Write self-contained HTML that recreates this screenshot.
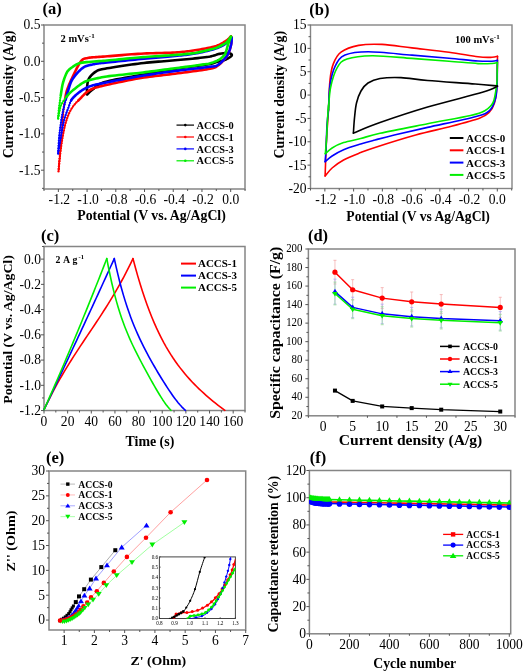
<!DOCTYPE html>
<html><head><meta charset="utf-8"><style>
html,body{margin:0;padding:0;background:#fff;width:525px;height:672px;overflow:hidden}
svg{position:absolute;left:0;top:0;font-family:"Liberation Serif", serif;will-change:transform}
</style></head><body>
<svg width="525" height="672" viewBox="0 0 525 672">
<rect x="0" y="0" width="525" height="672" fill="#fff"/>
<rect x="44" y="25" width="201" height="164" fill="none" stroke="#858585" stroke-width="1.5"/>
<line x1="58.36" y1="189" x2="58.36" y2="192" stroke="#555" stroke-width="1"/>
<text transform="translate(59.36,204.2) scale(0.97,1)" font-size="14" font-weight="normal" text-anchor="middle" fill="#000">-1.2</text>
<line x1="87.08" y1="189" x2="87.08" y2="192" stroke="#555" stroke-width="1"/>
<text transform="translate(88.08,204.2) scale(0.97,1)" font-size="14" font-weight="normal" text-anchor="middle" fill="#000">-1.0</text>
<line x1="115.8" y1="189" x2="115.8" y2="192" stroke="#555" stroke-width="1"/>
<text transform="translate(116.8,204.2) scale(0.97,1)" font-size="14" font-weight="normal" text-anchor="middle" fill="#000">-0.8</text>
<line x1="144.52" y1="189" x2="144.52" y2="192" stroke="#555" stroke-width="1"/>
<text transform="translate(145.52,204.2) scale(0.97,1)" font-size="14" font-weight="normal" text-anchor="middle" fill="#000">-0.6</text>
<line x1="173.24" y1="189" x2="173.24" y2="192" stroke="#555" stroke-width="1"/>
<text transform="translate(174.24,204.2) scale(0.97,1)" font-size="14" font-weight="normal" text-anchor="middle" fill="#000">-0.4</text>
<line x1="201.96" y1="189" x2="201.96" y2="192" stroke="#555" stroke-width="1"/>
<text transform="translate(202.96,204.2) scale(0.97,1)" font-size="14" font-weight="normal" text-anchor="middle" fill="#000">-0.2</text>
<line x1="230.68" y1="189" x2="230.68" y2="192" stroke="#555" stroke-width="1"/>
<text transform="translate(230.68,204.2) scale(0.97,1)" font-size="14" font-weight="normal" text-anchor="middle" fill="#000">0.0</text>
<line x1="44" y1="189" x2="44" y2="191" stroke="#555" stroke-width="1"/>
<line x1="72.72" y1="189" x2="72.72" y2="191" stroke="#555" stroke-width="1"/>
<line x1="101.44" y1="189" x2="101.44" y2="191" stroke="#555" stroke-width="1"/>
<line x1="130.16" y1="189" x2="130.16" y2="191" stroke="#555" stroke-width="1"/>
<line x1="158.88" y1="189" x2="158.88" y2="191" stroke="#555" stroke-width="1"/>
<line x1="187.6" y1="189" x2="187.6" y2="191" stroke="#555" stroke-width="1"/>
<line x1="216.32" y1="189" x2="216.32" y2="191" stroke="#555" stroke-width="1"/>
<line x1="245.04" y1="189" x2="245.04" y2="191" stroke="#555" stroke-width="1"/>
<line x1="41" y1="170.2" x2="44" y2="170.2" stroke="#555" stroke-width="1"/>
<text transform="translate(40.5,174.6) scale(0.97,1)" font-size="14" font-weight="normal" text-anchor="end" fill="#000">-1.5</text>
<line x1="41" y1="133.9" x2="44" y2="133.9" stroke="#555" stroke-width="1"/>
<text transform="translate(40.5,138.3) scale(0.97,1)" font-size="14" font-weight="normal" text-anchor="end" fill="#000">-1.0</text>
<line x1="41" y1="97.6" x2="44" y2="97.6" stroke="#555" stroke-width="1"/>
<text transform="translate(40.5,102) scale(0.97,1)" font-size="14" font-weight="normal" text-anchor="end" fill="#000">-0.5</text>
<line x1="41" y1="61.3" x2="44" y2="61.3" stroke="#555" stroke-width="1"/>
<text transform="translate(40.5,65.7) scale(0.97,1)" font-size="14" font-weight="normal" text-anchor="end" fill="#000">0.0</text>
<line x1="41" y1="25" x2="44" y2="25" stroke="#555" stroke-width="1"/>
<text transform="translate(40.5,29.4) scale(0.97,1)" font-size="14" font-weight="normal" text-anchor="end" fill="#000">0.5</text>
<line x1="42" y1="188.35" x2="44" y2="188.35" stroke="#555" stroke-width="1"/>
<line x1="42" y1="152.05" x2="44" y2="152.05" stroke="#555" stroke-width="1"/>
<line x1="42" y1="115.75" x2="44" y2="115.75" stroke="#555" stroke-width="1"/>
<line x1="42" y1="79.45" x2="44" y2="79.45" stroke="#555" stroke-width="1"/>
<line x1="42" y1="43.15" x2="44" y2="43.15" stroke="#555" stroke-width="1"/>
<text transform="translate(42.5,14.3)" font-size="16.5" font-weight="bold" text-anchor="start" fill="#000">(a)</text>
<text transform="translate(60.5,42)" font-size="10.5" font-weight="bold" text-anchor="start" fill="#000">2 mVs<tspan font-size="7" dy="-4">-1</tspan></text>
<text transform="translate(77.2,220.3)" font-size="14" font-weight="bold" text-anchor="start" fill="#000" textLength="148.6" lengthAdjust="spacingAndGlyphs">Potential (V vs. Ag/AgCl)</text>
<text transform="translate(12.5,158.2) rotate(-90)" font-size="14" font-weight="bold" text-anchor="start" fill="#000" textLength="127.5" lengthAdjust="spacingAndGlyphs">Current density (A/g)</text>
<path d="M87.1 94.5 L87.09 94.15 L87.08 93.71 L87.06 93.2 L87.03 92.62 L87.01 92 L86.99 91.33 L86.97 90.64 L86.97 89.92 L86.97 89.2 L87 88.48 L87.04 87.78 L87.1 87.1 L87.17 86.43 L87.24 85.73 L87.31 85.01 L87.38 84.29 L87.47 83.56 L87.57 82.82 L87.7 82.08 L87.86 81.36 L88.06 80.64 L88.29 79.94 L88.57 79.26 L88.9 78.6 L89.28 77.96 L89.72 77.31 L90.19 76.67 L90.7 76.04 L91.25 75.41 L91.83 74.81 L92.44 74.22 L93.06 73.65 L93.71 73.11 L94.36 72.61 L95.03 72.13 L95.7 71.7 L96.3 71.32 L96.8 71 L97.22 70.73 L97.63 70.5 L98.05 70.3 L98.53 70.11 L99.11 69.92 L99.83 69.73 L100.74 69.53 L101.88 69.29 L103.28 69.02 L105 68.7 L107.07 68.33 L109.48 67.91 L112.17 67.46 L115.1 66.99 L118.21 66.5 L121.46 66 L124.79 65.5 L128.16 65.01 L131.51 64.54 L134.81 64.09 L137.99 63.67 L141 63.3 L143.91 62.97 L146.81 62.66 L149.69 62.39 L152.56 62.13 L155.41 61.9 L158.25 61.67 L161.08 61.45 L163.89 61.23 L166.69 61.01 L169.47 60.79 L172.24 60.55 L175 60.3 L177.8 60.04 L180.67 59.77 L183.58 59.5 L186.51 59.22 L189.42 58.95 L192.29 58.67 L195.09 58.39 L197.79 58.11 L200.36 57.83 L202.77 57.55 L204.99 57.28 L207 57 L208.78 56.72 L210.35 56.42 L211.75 56.11 L212.99 55.8 L214.1 55.48 L215.11 55.17 L216.03 54.88 L216.9 54.59 L217.74 54.33 L218.57 54.09 L219.41 53.88 L220.3 53.7 L221.21 53.55 L222.09 53.42 L222.94 53.31 L223.76 53.22 L224.55 53.15 L225.31 53.1 L226.03 53.07 L226.71 53.06 L227.35 53.06 L227.95 53.09 L228.5 53.13 L229 53.2 L229.46 53.29 L229.9 53.4 L230.3 53.54 L230.67 53.7 L230.99 53.87 L231.27 54.07 L231.5 54.28 L231.67 54.5 L231.78 54.74 L231.82 54.99 L231.8 55.24 L231.7 55.5 L231.51 55.78 L231.23 56.09 L230.86 56.42 L230.42 56.77 L229.92 57.14 L229.37 57.51 L228.78 57.87 L228.17 58.24 L227.54 58.59 L226.92 58.92 L226.3 59.22 L225.7 59.5 L225.11 59.74 L224.51 59.96 L223.9 60.16 L223.28 60.34 L222.65 60.51 L221.99 60.67 L221.33 60.83 L220.64 60.99 L219.94 61.15 L219.21 61.32 L218.47 61.5 L217.7 61.7 L216.97 61.91 L216.32 62.11 L215.71 62.32 L215.12 62.53 L214.51 62.74 L213.85 62.96 L213.11 63.18 L212.24 63.42 L211.24 63.67 L210.05 63.93 L208.65 64.21 L207 64.5 L205.09 64.81 L202.92 65.13 L200.54 65.47 L197.99 65.82 L195.28 66.18 L192.46 66.55 L189.55 66.93 L186.6 67.33 L183.64 67.73 L180.7 68.14 L177.8 68.57 L175 69 L172.24 69.44 L169.47 69.9 L166.69 70.37 L163.89 70.85 L161.08 71.34 L158.25 71.84 L155.41 72.35 L152.56 72.87 L149.69 73.39 L146.81 73.92 L143.91 74.46 L141 75 L137.99 75.55 L134.83 76.11 L131.57 76.68 L128.24 77.26 L124.91 77.85 L121.6 78.44 L118.37 79.04 L115.27 79.64 L112.33 80.23 L109.61 80.83 L107.15 81.42 L105 82 L103.16 82.58 L101.59 83.17 L100.26 83.76 L99.13 84.36 L98.17 84.95 L97.34 85.54 L96.62 86.12 L95.97 86.7 L95.36 87.27 L94.74 87.83 L94.1 88.37 L93.4 88.9 L92.67 89.43 L91.97 89.97 L91.3 90.52 L90.67 91.07 L90.08 91.61 L89.52 92.13 L89.01 92.63 L88.54 93.1 L88.11 93.52 L87.72 93.91 L87.39 94.23 L87.1 94.5" fill="none" stroke="#000000" stroke-width="2.6" stroke-linejoin="round" stroke-linecap="round"/>
<path d="M58.5 171.4 L58.57 170.67 L58.65 169.79 L58.75 168.76 L58.86 167.61 L58.97 166.36 L59.1 165.01 L59.23 163.59 L59.37 162.12 L59.5 160.6 L59.64 159.07 L59.77 157.53 L59.9 156 L60.03 154.43 L60.16 152.75 L60.3 151 L60.44 149.19 L60.58 147.34 L60.72 145.47 L60.86 143.61 L61 141.76 L61.13 139.96 L61.26 138.22 L61.38 136.56 L61.5 135 L61.61 133.52 L61.71 132.09 L61.81 130.71 L61.91 129.37 L62 128.07 L62.09 126.81 L62.18 125.59 L62.27 124.41 L62.35 123.26 L62.43 122.14 L62.52 121.06 L62.6 120 L62.68 118.99 L62.75 118.04 L62.83 117.15 L62.89 116.3 L62.96 115.48 L63.03 114.69 L63.09 113.91 L63.16 113.15 L63.24 112.38 L63.32 111.61 L63.4 110.82 L63.5 110 L63.6 109.17 L63.71 108.33 L63.82 107.5 L63.93 106.67 L64.05 105.83 L64.17 105 L64.3 104.17 L64.43 103.33 L64.57 102.5 L64.71 101.67 L64.85 100.83 L65 100" fill="none" stroke="#ff0000" stroke-width="1.3" stroke-linejoin="round" stroke-linecap="round"/>
<circle cx="58.5" cy="171.4" r="1.15" fill="#ff0000"/>
<circle cx="58.74" cy="168.81" r="1.15" fill="#ff0000"/>
<circle cx="58.99" cy="166.22" r="1.15" fill="#ff0000"/>
<circle cx="59.23" cy="163.63" r="1.15" fill="#ff0000"/>
<circle cx="59.46" cy="161.04" r="1.15" fill="#ff0000"/>
<circle cx="59.69" cy="158.45" r="1.15" fill="#ff0000"/>
<circle cx="59.91" cy="155.86" r="1.15" fill="#ff0000"/>
<circle cx="60.12" cy="153.27" r="1.15" fill="#ff0000"/>
<circle cx="60.32" cy="150.68" r="1.15" fill="#ff0000"/>
<circle cx="60.52" cy="148.09" r="1.15" fill="#ff0000"/>
<circle cx="60.72" cy="145.5" r="1.15" fill="#ff0000"/>
<circle cx="60.91" cy="142.9" r="1.15" fill="#ff0000"/>
<circle cx="61.1" cy="140.31" r="1.15" fill="#ff0000"/>
<circle cx="61.3" cy="137.72" r="1.15" fill="#ff0000"/>
<circle cx="61.49" cy="135.12" r="1.15" fill="#ff0000"/>
<circle cx="61.68" cy="132.53" r="1.15" fill="#ff0000"/>
<circle cx="61.87" cy="129.94" r="1.15" fill="#ff0000"/>
<circle cx="62.06" cy="127.34" r="1.15" fill="#ff0000"/>
<circle cx="62.24" cy="124.75" r="1.15" fill="#ff0000"/>
<circle cx="62.43" cy="122.16" r="1.15" fill="#ff0000"/>
<circle cx="62.63" cy="119.57" r="1.15" fill="#ff0000"/>
<circle cx="62.84" cy="116.97" r="1.15" fill="#ff0000"/>
<circle cx="63.05" cy="114.38" r="1.15" fill="#ff0000"/>
<circle cx="63.3" cy="111.79" r="1.15" fill="#ff0000"/>
<circle cx="63.6" cy="109.21" r="1.15" fill="#ff0000"/>
<circle cx="63.94" cy="106.63" r="1.15" fill="#ff0000"/>
<circle cx="64.32" cy="104.06" r="1.15" fill="#ff0000"/>
<circle cx="64.74" cy="101.5" r="1.15" fill="#ff0000"/>
<path d="M65 100 L65.14 99.18 L65.27 98.38 L65.4 97.59 L65.52 96.8 L65.65 96.02 L65.78 95.23 L65.93 94.43 L66.1 93.61 L66.3 92.76 L66.53 91.88 L66.79 90.96 L67.1 90 L67.45 88.99 L67.83 87.94 L68.24 86.86 L68.68 85.75 L69.14 84.61 L69.63 83.46 L70.14 82.28 L70.67 81.09 L71.21 79.9 L71.76 78.7 L72.33 77.5 L72.9 76.3 L73.49 75.06 L74.12 73.75 L74.77 72.39 L75.45 71 L76.14 69.59 L76.84 68.21 L77.54 66.85 L78.24 65.56 L78.93 64.34 L79.61 63.23 L80.27 62.24 L80.9 61.4 L81.48 60.71 L81.98 60.15 L82.44 59.7 L82.87 59.34 L83.29 59.07 L83.72 58.86 L84.18 58.7 L84.7 58.57 L85.29 58.45 L85.97 58.32 L86.77 58.18 L87.7 58 L88.71 57.81 L89.76 57.66 L90.85 57.52 L92 57.41 L93.22 57.31 L94.53 57.21 L95.93 57.12 L97.46 57.03 L99.11 56.92 L100.91 56.8 L102.87 56.66 L105 56.5 L107.35 56.31 L109.94 56.09 L112.73 55.85 L115.69 55.6 L118.78 55.34 L121.96 55.08 L125.19 54.82 L128.46 54.56 L131.7 54.32 L134.9 54.09 L138.01 53.88 L141 53.7 L143.95 53.55 L146.94 53.42 L149.97 53.31 L153 53.22 L156.02 53.14 L159 53.06 L161.93 52.99 L164.78 52.91 L167.53 52.83 L170.17 52.74 L172.66 52.63 L175 52.5 L177.16 52.36 L179.14 52.21 L180.98 52.06 L182.7 51.91 L184.33 51.75 L185.88 51.57 L187.38 51.39 L188.85 51.2 L190.33 51 L191.83 50.78 L193.38 50.55 L195 50.3 L196.7 50.03 L198.44 49.75 L200.22 49.46 L202.01 49.15 L203.8 48.83 L205.58 48.49 L207.33 48.15 L209.02 47.8 L210.65 47.43 L212.2 47.06 L213.66 46.68 L215 46.3 L216.23 45.9 L217.38 45.48 L218.46 45.05 L219.46 44.61 L220.39 44.15 L221.27 43.69 L222.1 43.23 L222.88 42.77 L223.62 42.31 L224.34 41.86 L225.03 41.42 L225.7 41 L226.35 40.57 L226.96 40.13 L227.53 39.67 L228.06 39.21 L228.56 38.76 L229.02 38.32 L229.44 37.89 L229.83 37.5 L230.17 37.13 L230.49 36.8 L230.76 36.53 L231 36.3" fill="none" stroke="#ff0000" stroke-width="2.6" stroke-linejoin="round" stroke-linecap="round"/>
<path d="M231 36.3 L231.01 36.71 L231.05 37.22 L231.09 37.82 L231.15 38.48 L231.2 39.21 L231.25 39.98 L231.28 40.79 L231.3 41.63 L231.28 42.48 L231.23 43.33 L231.14 44.18 L231 45 L230.82 45.82 L230.62 46.68 L230.4 47.56 L230.15 48.45 L229.87 49.36 L229.56 50.28 L229.22 51.2 L228.85 52.13 L228.45 53.04 L228 53.95 L227.52 54.83 L227 55.7 L226.43 56.57 L225.8 57.46 L225.12 58.36 L224.4 59.27 L223.64 60.17 L222.86 61.05 L222.05 61.91 L221.24 62.73 L220.42 63.51 L219.6 64.24 L218.79 64.91 L218 65.5 L217.29 66.01 L216.7 66.43 L216.18 66.79 L215.69 67.09 L215.2 67.34 L214.67 67.57 L214.05 67.78 L213.31 67.98 L212.4 68.19 L211.29 68.42 L209.94 68.69 L208.3 69 L206.35 69.35 L204.12 69.72 L201.65 70.1 L198.97 70.49 L196.13 70.89 L193.17 71.3 L190.12 71.71 L187.03 72.12 L183.93 72.53 L180.86 72.93 L177.87 73.32 L175 73.7 L172.2 74.06 L169.4 74.41 L166.6 74.73 L163.79 75.05 L160.98 75.37 L158.17 75.69 L155.34 76.02 L152.51 76.36 L149.66 76.72 L146.79 77.11 L143.91 77.54 L141 78 L138 78.51 L134.87 79.07 L131.65 79.68 L128.37 80.31 L125.08 80.96 L121.81 81.62 L118.61 82.29 L115.52 82.95 L112.57 83.59 L109.81 84.2 L107.27 84.77 L105 85.3 L103 85.77 L101.23 86.18 L99.66 86.55 L98.27 86.9 L97.02 87.22 L95.89 87.54 L94.85 87.86 L93.87 88.2 L92.93 88.58 L91.98 88.99 L91.02 89.46 L90 90 L88.97 90.6 L87.98 91.26 L87.04 91.96 L86.13 92.7 L85.25 93.47 L84.41 94.27 L83.58 95.08 L82.78 95.9 L82 96.71 L81.22 97.53 L80.46 98.32 L79.7 99.1 L78.95 99.85 L78.21 100.6" fill="none" stroke="#ff0000" stroke-width="2.6" stroke-linejoin="round" stroke-linecap="round"/>
<path d="M78.21 100.6 L77.5 101.33 L76.79 102.06 L76.11 102.79 L75.44 103.52 L74.79 104.27 L74.15 105.03 L73.54 105.81 L72.94 106.61 L72.36 107.44 L71.8 108.3 L71.26 109.19 L70.75 110.09 L70.25 111 L69.78 111.93 L69.32 112.88 L68.88 113.86 L68.46 114.85 L68.04 115.87 L67.64 116.91 L67.25 117.98 L66.87 119.07 L66.5 120.2 L66.14 121.35 L65.79 122.52 L65.47 123.71 L65.15 124.92 L64.85 126.16 L64.56 127.42 L64.27 128.72 L63.99 130.04 L63.72 131.4 L63.45 132.8 L63.17 134.23 L62.9 135.7 L62.62 137.24 L62.35 138.86 L62.07 140.55 L61.8 142.29 L61.53 144.07 L61.26 145.86 L61.01 147.65 L60.76 149.42 L60.52 151.16 L60.3 152.84 L60.09 154.46 L59.9 156 L59.72 157.5 L59.56 159.03 L59.4 160.56 L59.26 162.07 L59.13 163.54 L59.01 164.97 L58.9 166.32 L58.8 167.59 L58.71 168.75 L58.63 169.78 L58.56 170.67 L58.5 171.4" fill="none" stroke="#ff0000" stroke-width="1.3" stroke-linejoin="round" stroke-linecap="round"/>
<circle cx="78.21" cy="100.6" r="1.15" fill="#ff0000"/>
<circle cx="76.41" cy="102.47" r="1.15" fill="#ff0000"/>
<circle cx="74.67" cy="104.4" r="1.15" fill="#ff0000"/>
<circle cx="73.06" cy="106.44" r="1.15" fill="#ff0000"/>
<circle cx="71.62" cy="108.6" r="1.15" fill="#ff0000"/>
<circle cx="70.33" cy="110.86" r="1.15" fill="#ff0000"/>
<circle cx="69.18" cy="113.19" r="1.15" fill="#ff0000"/>
<circle cx="68.16" cy="115.58" r="1.15" fill="#ff0000"/>
<circle cx="67.24" cy="118.02" r="1.15" fill="#ff0000"/>
<circle cx="66.41" cy="120.48" r="1.15" fill="#ff0000"/>
<circle cx="65.67" cy="122.97" r="1.15" fill="#ff0000"/>
<circle cx="65.01" cy="125.49" r="1.15" fill="#ff0000"/>
<circle cx="64.43" cy="128.02" r="1.15" fill="#ff0000"/>
<circle cx="63.89" cy="130.56" r="1.15" fill="#ff0000"/>
<circle cx="63.39" cy="133.11" r="1.15" fill="#ff0000"/>
<circle cx="62.91" cy="135.67" r="1.15" fill="#ff0000"/>
<circle cx="62.45" cy="138.23" r="1.15" fill="#ff0000"/>
<circle cx="62.03" cy="140.8" r="1.15" fill="#ff0000"/>
<circle cx="61.63" cy="143.37" r="1.15" fill="#ff0000"/>
<circle cx="61.25" cy="145.94" r="1.15" fill="#ff0000"/>
<circle cx="60.89" cy="148.51" r="1.15" fill="#ff0000"/>
<circle cx="60.53" cy="151.09" r="1.15" fill="#ff0000"/>
<circle cx="60.19" cy="153.66" r="1.15" fill="#ff0000"/>
<circle cx="59.87" cy="156.24" r="1.15" fill="#ff0000"/>
<circle cx="59.58" cy="158.83" r="1.15" fill="#ff0000"/>
<circle cx="59.32" cy="161.42" r="1.15" fill="#ff0000"/>
<circle cx="59.09" cy="164.01" r="1.15" fill="#ff0000"/>
<circle cx="58.88" cy="166.6" r="1.15" fill="#ff0000"/>
<circle cx="58.68" cy="169.19" r="1.15" fill="#ff0000"/>
<path d="M58.1 153.6 L58.15 152.73 L58.22 151.65 L58.29 150.38 L58.37 148.96 L58.45 147.41 L58.55 145.76 L58.65 144.06 L58.77 142.32 L58.89 140.59 L59.02 138.88 L59.15 137.25 L59.3 135.7 L59.46 134.19 L59.63 132.66 L59.81 131.1 L60.01 129.54 L60.21 127.98 L60.42 126.42 L60.63 124.89 L60.85 123.39 L61.06 121.93 L61.28 120.52 L61.49 119.18 L61.7 117.9 L61.9 116.71 L62.09 115.62 L62.28 114.61 L62.47 113.65 L62.65 112.73 L62.84 111.84 L63.04 110.95 L63.24 110.05 L63.46 109.12 L63.69 108.15 L63.94 107.12 L64.2 106 L64.48 104.8 L64.78 103.52 L65.1 102.18 L65.43 100.8 L65.77 99.39" fill="none" stroke="#0000ff" stroke-width="1.3" stroke-linejoin="round" stroke-linecap="round"/>
<circle cx="58.1" cy="153.6" r="1.15" fill="#0000ff"/>
<circle cx="58.25" cy="151" r="1.15" fill="#0000ff"/>
<circle cx="58.4" cy="148.41" r="1.15" fill="#0000ff"/>
<circle cx="58.55" cy="145.81" r="1.15" fill="#0000ff"/>
<circle cx="58.71" cy="143.22" r="1.15" fill="#0000ff"/>
<circle cx="58.88" cy="140.62" r="1.15" fill="#0000ff"/>
<circle cx="59.09" cy="138.03" r="1.15" fill="#0000ff"/>
<circle cx="59.33" cy="135.44" r="1.15" fill="#0000ff"/>
<circle cx="59.61" cy="132.86" r="1.15" fill="#0000ff"/>
<circle cx="59.92" cy="130.28" r="1.15" fill="#0000ff"/>
<circle cx="60.25" cy="127.7" r="1.15" fill="#0000ff"/>
<circle cx="60.6" cy="125.12" r="1.15" fill="#0000ff"/>
<circle cx="60.97" cy="122.55" r="1.15" fill="#0000ff"/>
<circle cx="61.37" cy="119.98" r="1.15" fill="#0000ff"/>
<circle cx="61.78" cy="117.41" r="1.15" fill="#0000ff"/>
<circle cx="62.24" cy="114.85" r="1.15" fill="#0000ff"/>
<circle cx="62.74" cy="112.3" r="1.15" fill="#0000ff"/>
<circle cx="63.31" cy="109.76" r="1.15" fill="#0000ff"/>
<circle cx="63.91" cy="107.23" r="1.15" fill="#0000ff"/>
<circle cx="64.51" cy="104.7" r="1.15" fill="#0000ff"/>
<circle cx="65.1" cy="102.17" r="1.15" fill="#0000ff"/>
<circle cx="65.71" cy="99.64" r="1.15" fill="#0000ff"/>
<path d="M65.77 99.39 L66.12 97.97 L66.48 96.55 L66.84 95.14 L67.2 93.77 L67.57 92.45 L67.94 91.19 L68.3 90 L68.65 88.89 L68.97 87.83 L69.28 86.81 L69.59 85.84 L69.9 84.9 L70.22 83.98 L70.56 83.08 L70.93 82.19 L71.34 81.31 L71.8 80.42 L72.32 79.52 L72.9 78.6 L73.55 77.65 L74.27 76.67 L75.05 75.66 L75.88 74.65 L76.75 73.64 L77.64 72.65 L78.56 71.68 L79.49 70.76 L80.41 69.89 L81.33 69.08 L82.23 68.34 L83.1 67.7 L83.95 67.15 L84.8 66.68 L85.64 66.28 L86.48 65.94 L87.32 65.66 L88.16 65.42 L89.01 65.21 L89.87 65.02 L90.73 64.85 L91.61 64.68 L92.5 64.5 L93.4 64.3 L94.24 64.11 L94.98 63.95 L95.64 63.82 L96.27 63.71 L96.91 63.61 L97.59 63.52 L98.37 63.42 L99.28 63.32 L100.35 63.21 L101.64 63.07 L103.17 62.9 L105 62.7 L107.15 62.46 L109.61 62.2 L112.33 61.91 L115.27 61.6 L118.37 61.27 L121.6 60.94 L124.91 60.6 L128.24 60.26 L131.57 59.93 L134.83 59.6 L137.99 59.29 L141 59 L143.95 58.72 L146.94 58.45 L149.97 58.19 L153 57.93 L156.02 57.68 L159 57.42 L161.93 57.18 L164.78 56.94 L167.53 56.7 L170.17 56.46 L172.66 56.23 L175 56 L177.16 55.78 L179.14 55.58 L180.98 55.39 L182.7 55.21 L184.33 55.03 L185.88 54.86 L187.38 54.67 L188.85 54.48 L190.33 54.27 L191.83 54.04 L193.38 53.78 L195 53.5 L196.7 53.19 L198.44 52.85 L200.21 52.49 L202 52.12 L203.79 51.73 L205.56 51.32 L207.3 50.91 L209 50.49 L210.63 50.07 L212.19 49.64 L213.65 49.22 L215 48.8 L216.25 48.38 L217.42 47.96 L218.51 47.53 L219.53 47.1 L220.49 46.66 L221.39 46.22 L222.25 45.77 L223.06 45.33 L223.83 44.87 L224.58 44.42 L225.3 43.96 L226 43.5 L226.68 43.02 L227.32 42.5 L227.93 41.95 L228.5 41.39 L229.04 40.83 L229.54 40.27 L230 39.73 L230.42 39.22 L230.8 38.75 L231.14 38.34 L231.44 37.98 L231.7 37.7" fill="none" stroke="#0000ff" stroke-width="2.6" stroke-linejoin="round" stroke-linecap="round"/>
<path d="M231.7 37.7 L231.68 38.04 L231.66 38.45 L231.65 38.93 L231.64 39.47 L231.63 40.05 L231.6 40.68 L231.56 41.35 L231.5 42.04 L231.42 42.76 L231.32 43.5 L231.18 44.25 L231 45 L230.8 45.78 L230.59 46.6 L230.36 47.47 L230.11 48.37 L229.84 49.29 L229.54 50.23 L229.21 51.17 L228.85 52.11 L228.45 53.04 L228.01 53.96 L227.53 54.85 L227 55.7 L226.41 56.55 L225.76 57.42 L225.05 58.29 L224.3 59.17 L223.51 60.04 L222.69 60.89 L221.85 61.71 L221 62.49 L220.16 63.22 L219.32 63.89 L218.5 64.49 L217.7 65 L217 65.42 L216.42 65.73 L215.92 65.97 L215.46 66.13 L215 66.25 L214.5 66.33 L213.92 66.39 L213.21 66.46 L212.33 66.53 L211.25 66.64 L209.92 66.79 L208.3 67 L206.36 67.26 L204.14 67.54 L201.67 67.84 L199 68.15 L196.15 68.47 L193.19 68.81 L190.13 69.16 L187.04 69.52 L183.93 69.88 L180.87 70.25 L177.88 70.63 L175 71 L172.2 71.38 L169.4 71.76 L166.6 72.14 L163.79 72.53 L160.98 72.93 L158.17 73.33 L155.34 73.75 L152.51 74.17 L149.66 74.61 L146.79 75.06 L143.91 75.52 L141 76 L138.01 76.5 L134.91 77.04 L131.73 77.6 L128.5 78.17 L125.25 78.76 L122.03 79.35 L118.85 79.94 L115.77 80.53 L112.81 81.1 L110 81.66 L107.39 82.2 L105 82.7 L102.84 83.16 L100.86 83.57 L99.05 83.95 L97.39 84.3 L95.85 84.64 L94.41 84.98 L93.04 85.33 L91.73 85.7 L90.46 86.12 L89.19 86.58 L87.91 87.1 L86.6 87.7 L85.27 88.37 L83.94 89.11 L82.63 89.9 L81.35 90.74 L80.1 91.62 L78.89 92.52 L77.73 93.44 L76.63 94.37 L75.58 95.3 L74.61 96.22 L73.71 97.12 L72.9 98 L72.19 98.85 L71.59 99.7 L71.08 100.54" fill="none" stroke="#0000ff" stroke-width="2.6" stroke-linejoin="round" stroke-linecap="round"/>
<path d="M71.08 100.54 L70.64 101.37 L70.27 102.21 L69.95 103.05 L69.66 103.89 L69.39 104.75 L69.12 105.61 L68.84 106.49 L68.54 107.39 L68.2 108.3 L67.83 109.22 L67.47 110.15 L67.11 111.08 L66.75 112.01 L66.39 112.96 L66.04 113.93 L65.7 114.91 L65.36 115.91 L65.03 116.93 L64.71 117.99 L64.4 119.08 L64.1 120.2 L63.81 121.36 L63.54 122.55 L63.27 123.77 L63.02 125.01 L62.77 126.28 L62.53 127.57 L62.29 128.89 L62.06 130.22 L61.82 131.57 L61.59 132.94 L61.35 134.31 L61.1 135.7 L60.84 137.16 L60.57 138.75 L60.28 140.43 L59.99 142.15 L59.7 143.89 L59.41 145.62 L59.14 147.29 L58.88 148.87 L58.64 150.33 L58.43 151.62 L58.24 152.73 L58.1 153.6" fill="none" stroke="#0000ff" stroke-width="1.3" stroke-linejoin="round" stroke-linecap="round"/>
<circle cx="71.08" cy="100.54" r="1.15" fill="#0000ff"/>
<circle cx="70.01" cy="102.9" r="1.15" fill="#0000ff"/>
<circle cx="69.2" cy="105.37" r="1.15" fill="#0000ff"/>
<circle cx="68.37" cy="107.84" r="1.15" fill="#0000ff"/>
<circle cx="67.43" cy="110.26" r="1.15" fill="#0000ff"/>
<circle cx="66.5" cy="112.69" r="1.15" fill="#0000ff"/>
<circle cx="65.62" cy="115.14" r="1.15" fill="#0000ff"/>
<circle cx="64.83" cy="117.61" r="1.15" fill="#0000ff"/>
<circle cx="64.12" cy="120.12" r="1.15" fill="#0000ff"/>
<circle cx="63.52" cy="122.64" r="1.15" fill="#0000ff"/>
<circle cx="62.98" cy="125.19" r="1.15" fill="#0000ff"/>
<circle cx="62.5" cy="127.74" r="1.15" fill="#0000ff"/>
<circle cx="62.05" cy="130.3" r="1.15" fill="#0000ff"/>
<circle cx="61.6" cy="132.86" r="1.15" fill="#0000ff"/>
<circle cx="61.15" cy="135.42" r="1.15" fill="#0000ff"/>
<circle cx="60.7" cy="137.99" r="1.15" fill="#0000ff"/>
<circle cx="60.26" cy="140.55" r="1.15" fill="#0000ff"/>
<circle cx="59.83" cy="143.11" r="1.15" fill="#0000ff"/>
<circle cx="59.4" cy="145.68" r="1.15" fill="#0000ff"/>
<circle cx="58.98" cy="148.24" r="1.15" fill="#0000ff"/>
<circle cx="58.56" cy="150.81" r="1.15" fill="#0000ff"/>
<circle cx="58.14" cy="153.37" r="1.15" fill="#0000ff"/>
<path d="M58.1 118.5 L58.13 118.1 L58.18 117.5 L58.24 116.72 L58.3 115.8 L58.38 114.77 L58.47 113.66 L58.56 112.5 L58.66 111.32 L58.77 110.16 L58.88 109.05 L58.99 108.02 L59.1 107.1 L59.25 106 L59.46 104.47 L59.72 102.6 L60.02 100.47 L60.35 98.16 L60.7 95.77" fill="none" stroke="#00ee00" stroke-width="1.3" stroke-linejoin="round" stroke-linecap="round"/>
<circle cx="58.1" cy="118.5" r="1.15" fill="#00ee00"/>
<circle cx="58.3" cy="115.91" r="1.15" fill="#00ee00"/>
<circle cx="58.5" cy="113.32" r="1.15" fill="#00ee00"/>
<circle cx="58.72" cy="110.72" r="1.15" fill="#00ee00"/>
<circle cx="58.98" cy="108.14" r="1.15" fill="#00ee00"/>
<circle cx="59.31" cy="105.56" r="1.15" fill="#00ee00"/>
<circle cx="59.66" cy="102.98" r="1.15" fill="#00ee00"/>
<circle cx="60.02" cy="100.41" r="1.15" fill="#00ee00"/>
<circle cx="60.39" cy="97.83" r="1.15" fill="#00ee00"/>
<path d="M60.7 95.77 L61.05 93.37 L61.41 91.05 L61.75 88.9 L62.07 87 L62.36 85.44 L62.6 84.3 L62.85 83.32 L63.16 82.22 L63.52 81.02 L63.92 79.75 L64.36 78.45 L64.83 77.15 L65.32 75.87 L65.81 74.66 L66.3 73.55 L66.79 72.56 L67.26 71.74 L67.7 71.1 L68.22 70.52 L68.92 69.84 L69.77 69.1 L70.74 68.31 L71.81 67.5 L72.94 66.69 L74.12 65.91 L75.31 65.17 L76.49 64.49 L77.63 63.91 L78.71 63.44 L79.7 63.1 L80.86 62.85 L82.44 62.6 L84.36 62.37 L86.55 62.14 L88.94 61.93 L91.45 61.73 L94.01 61.53 L96.55 61.35 L98.99 61.17 L101.26 61.01 L103.29 60.85 L105 60.7 L106.86 60.52 L109.31 60.29 L112.23 60 L115.5 59.69 L119.02 59.35 L122.67 59 L126.34 58.65 L129.92 58.31 L133.28 57.99 L136.33 57.71 L138.94 57.48 L141 57.3 L143.04 57.14 L145.57 56.96 L148.51 56.76 L151.73 56.55 L155.13 56.32 L158.6 56.1 L162.04 55.87 L165.34 55.66 L168.39 55.46 L171.09 55.28 L173.33 55.12 L175 55 L176.45 54.88 L178.08 54.75 L179.84 54.6 L181.7 54.44 L183.6 54.27 L185.53 54.09 L187.42 53.91 L189.24 53.72 L190.95 53.53 L192.5 53.35 L193.87 53.17 L195 53 L196.18 52.79 L197.66 52.49 L199.38 52.12 L201.28 51.71 L203.29 51.25 L205.35 50.77 L207.39 50.29 L209.34 49.81 L211.14 49.36 L212.73 48.95 L214.04 48.59 L215 48.3 L215.82 48.01 L216.75 47.64 L217.74 47.21 L218.78 46.74 L219.84 46.23 L220.9 45.71 L221.93 45.18 L222.9 44.67 L223.78 44.18 L224.57 43.73 L225.21 43.33 L225.7 43 L226.13 42.64 L226.61 42.17 L227.13 41.61 L227.67 40.99 L228.21 40.33 L228.75 39.65 L229.27 38.99 L229.75 38.36 L230.17 37.79 L230.53 37.3 L230.81 36.93 L231 36.7" fill="none" stroke="#00ee00" stroke-width="2.6" stroke-linejoin="round" stroke-linecap="round"/>
<path d="M231 36.7 L230.9 36.95 L230.75 37.34 L230.55 37.84 L230.31 38.43 L230.05 39.1 L229.77 39.8 L229.49 40.53 L229.21 41.26 L228.94 41.96 L228.69 42.62 L228.47 43.21 L228.3 43.7 L228.13 44.25 L227.91 44.99 L227.66 45.87 L227.38 46.87 L227.09 47.95 L226.77 49.06 L226.45 50.17 L226.14 51.23 L225.82 52.22 L225.53 53.08 L225.25 53.79 L225 54.3 L224.72 54.72 L224.35 55.19 L223.91 55.69 L223.4 56.2 L222.85 56.73 L222.28 57.25 L221.68 57.76 L221.09 58.24 L220.51 58.68 L219.96 59.08 L219.45 59.43 L219 59.7 L218.52 59.96 L217.93 60.26 L217.24 60.6 L216.46 60.96 L215.6 61.34 L214.67 61.73 L213.69 62.12 L212.66 62.49 L211.59 62.84 L210.5 63.17 L209.4 63.46 L208.3 63.7 L206.85 63.95 L204.77 64.28 L202.19 64.66 L199.21 65.07 L195.95 65.52 L192.52 65.98 L189.05 66.45 L185.65 66.9 L182.42 67.32 L179.5 67.71 L176.98 68.04 L175 68.3 L173.05 68.56 L170.63 68.88 L167.83 69.25 L164.75 69.65 L161.47 70.08 L158.1 70.52 L154.72 70.96 L151.43 71.39 L148.32 71.78 L145.48 72.14 L143.01 72.45 L141 72.7 L138.93 72.94 L136.3 73.22 L133.22 73.55 L129.82 73.9 L126.2 74.28 L122.5 74.67 L118.83 75.06 L115.3 75.44 L112.03 75.8 L109.15 76.14 L106.77 76.44 L105 76.7 L103.47 76.97 L101.75 77.3 L99.87 77.69 L97.9 78.12 L95.88 78.58 L93.86 79.07 L91.88 79.58 L89.99 80.09 L88.24 80.6 L86.68 81.09 L85.35 81.56 L84.3 82 L83.3 82.53 L82.12 83.26 L80.8 84.16 L79.37 85.19 L77.89 86.3 L76.38 87.46 L74.91 88.64 L73.5 89.79 L72.21 90.88 L71.06 91.87 L70.11 92.72 L69.4 93.4 L68.77 94.06 L68.06 94.88 L67.28 95.83 L66.47 96.87" fill="none" stroke="#00ee00" stroke-width="2.6" stroke-linejoin="round" stroke-linecap="round"/>
<path d="M66.47 96.87 L65.63 97.98 L64.8 99.12 L64 100.27 L63.24 101.39 L62.55 102.45 L61.95 103.43 L61.46 104.29 L61.1 105 L60.81 105.77 L60.51 106.78 L60.2 107.98 L59.89 109.32 L59.58 110.74 L59.29 112.19 L59.01 113.61 L58.76 114.96 L58.54 116.17 L58.35 117.21 L58.2 118 L58.1 118.5" fill="none" stroke="#00ee00" stroke-width="1.3" stroke-linejoin="round" stroke-linecap="round"/>
<circle cx="66.47" cy="96.87" r="1.15" fill="#00ee00"/>
<circle cx="64.92" cy="98.96" r="1.15" fill="#00ee00"/>
<circle cx="63.44" cy="101.1" r="1.15" fill="#00ee00"/>
<circle cx="62.03" cy="103.29" r="1.15" fill="#00ee00"/>
<circle cx="60.87" cy="105.6" r="1.15" fill="#00ee00"/>
<circle cx="60.17" cy="108.11" r="1.15" fill="#00ee00"/>
<circle cx="59.6" cy="110.64" r="1.15" fill="#00ee00"/>
<circle cx="59.09" cy="113.19" r="1.15" fill="#00ee00"/>
<circle cx="58.61" cy="115.75" r="1.15" fill="#00ee00"/>
<circle cx="58.14" cy="118.3" r="1.15" fill="#00ee00"/>
<line x1="176.5" y1="125.1" x2="194" y2="125.1" stroke="#000000" stroke-width="1.2"/>
<circle cx="185.3" cy="125.1" r="1.3" fill="#000000"/>
<text transform="translate(196.6,128.7)" font-size="10.4" font-weight="bold" text-anchor="start" fill="#000" textLength="37" lengthAdjust="spacingAndGlyphs">ACCS-0</text>
<line x1="176.5" y1="137" x2="194" y2="137" stroke="#ff0000" stroke-width="1.2"/>
<circle cx="185.3" cy="137" r="1.3" fill="#ff0000"/>
<text transform="translate(196.6,140.6)" font-size="10.4" font-weight="bold" text-anchor="start" fill="#000" textLength="37" lengthAdjust="spacingAndGlyphs">ACCS-1</text>
<line x1="176.5" y1="148.9" x2="194" y2="148.9" stroke="#0000ff" stroke-width="1.2"/>
<circle cx="185.3" cy="148.9" r="1.3" fill="#0000ff"/>
<text transform="translate(196.6,152.5)" font-size="10.4" font-weight="bold" text-anchor="start" fill="#000" textLength="37" lengthAdjust="spacingAndGlyphs">ACCS-3</text>
<line x1="176.5" y1="160.8" x2="194" y2="160.8" stroke="#00ee00" stroke-width="1.2"/>
<circle cx="185.3" cy="160.8" r="1.3" fill="#00ee00"/>
<text transform="translate(196.6,164.4)" font-size="10.4" font-weight="bold" text-anchor="start" fill="#000" textLength="37" lengthAdjust="spacingAndGlyphs">ACCS-5</text>
<rect x="310.5" y="25" width="201.5" height="163.5" fill="none" stroke="#858585" stroke-width="1.4"/>
<line x1="324.87" y1="188.5" x2="324.87" y2="191.5" stroke="#555" stroke-width="1"/>
<text transform="translate(325.87,203.7) scale(0.97,1)" font-size="14" font-weight="normal" text-anchor="middle" fill="#000">-1.2</text>
<line x1="353.61" y1="188.5" x2="353.61" y2="191.5" stroke="#555" stroke-width="1"/>
<text transform="translate(354.61,203.7) scale(0.97,1)" font-size="14" font-weight="normal" text-anchor="middle" fill="#000">-1.0</text>
<line x1="382.35" y1="188.5" x2="382.35" y2="191.5" stroke="#555" stroke-width="1"/>
<text transform="translate(383.35,203.7) scale(0.97,1)" font-size="14" font-weight="normal" text-anchor="middle" fill="#000">-0.8</text>
<line x1="411.09" y1="188.5" x2="411.09" y2="191.5" stroke="#555" stroke-width="1"/>
<text transform="translate(412.09,203.7) scale(0.97,1)" font-size="14" font-weight="normal" text-anchor="middle" fill="#000">-0.6</text>
<line x1="439.83" y1="188.5" x2="439.83" y2="191.5" stroke="#555" stroke-width="1"/>
<text transform="translate(440.83,203.7) scale(0.97,1)" font-size="14" font-weight="normal" text-anchor="middle" fill="#000">-0.4</text>
<line x1="468.57" y1="188.5" x2="468.57" y2="191.5" stroke="#555" stroke-width="1"/>
<text transform="translate(469.57,203.7) scale(0.97,1)" font-size="14" font-weight="normal" text-anchor="middle" fill="#000">-0.2</text>
<line x1="497.31" y1="188.5" x2="497.31" y2="191.5" stroke="#555" stroke-width="1"/>
<text transform="translate(497.31,203.7) scale(0.97,1)" font-size="14" font-weight="normal" text-anchor="middle" fill="#000">0.0</text>
<line x1="310.5" y1="188.5" x2="310.5" y2="190.5" stroke="#555" stroke-width="1"/>
<line x1="339.24" y1="188.5" x2="339.24" y2="190.5" stroke="#555" stroke-width="1"/>
<line x1="367.98" y1="188.5" x2="367.98" y2="190.5" stroke="#555" stroke-width="1"/>
<line x1="396.72" y1="188.5" x2="396.72" y2="190.5" stroke="#555" stroke-width="1"/>
<line x1="425.46" y1="188.5" x2="425.46" y2="190.5" stroke="#555" stroke-width="1"/>
<line x1="454.2" y1="188.5" x2="454.2" y2="190.5" stroke="#555" stroke-width="1"/>
<line x1="482.94" y1="188.5" x2="482.94" y2="190.5" stroke="#555" stroke-width="1"/>
<line x1="511.68" y1="188.5" x2="511.68" y2="190.5" stroke="#555" stroke-width="1"/>
<line x1="307.5" y1="188.49" x2="310.5" y2="188.49" stroke="#555" stroke-width="1"/>
<text transform="translate(306.5,192.89) scale(0.97,1)" font-size="14" font-weight="normal" text-anchor="end" fill="#000">-20</text>
<line x1="307.5" y1="165.13" x2="310.5" y2="165.13" stroke="#555" stroke-width="1"/>
<text transform="translate(306.5,169.53) scale(0.97,1)" font-size="14" font-weight="normal" text-anchor="end" fill="#000">-15</text>
<line x1="307.5" y1="141.78" x2="310.5" y2="141.78" stroke="#555" stroke-width="1"/>
<text transform="translate(306.5,146.18) scale(0.97,1)" font-size="14" font-weight="normal" text-anchor="end" fill="#000">-10</text>
<line x1="307.5" y1="118.42" x2="310.5" y2="118.42" stroke="#555" stroke-width="1"/>
<text transform="translate(306.5,122.82) scale(0.97,1)" font-size="14" font-weight="normal" text-anchor="end" fill="#000">-5</text>
<line x1="307.5" y1="95.06" x2="310.5" y2="95.06" stroke="#555" stroke-width="1"/>
<text transform="translate(306.5,99.47) scale(0.97,1)" font-size="14" font-weight="normal" text-anchor="end" fill="#000">0</text>
<line x1="307.5" y1="71.71" x2="310.5" y2="71.71" stroke="#555" stroke-width="1"/>
<text transform="translate(306.5,76.11) scale(0.97,1)" font-size="14" font-weight="normal" text-anchor="end" fill="#000">5</text>
<line x1="307.5" y1="48.36" x2="310.5" y2="48.36" stroke="#555" stroke-width="1"/>
<text transform="translate(306.5,52.76) scale(0.97,1)" font-size="14" font-weight="normal" text-anchor="end" fill="#000">10</text>
<line x1="307.5" y1="25" x2="310.5" y2="25" stroke="#555" stroke-width="1"/>
<text transform="translate(306.5,29.4) scale(0.97,1)" font-size="14" font-weight="normal" text-anchor="end" fill="#000">15</text>
<line x1="308.5" y1="176.81" x2="310.5" y2="176.81" stroke="#555" stroke-width="1"/>
<line x1="308.5" y1="153.45" x2="310.5" y2="153.45" stroke="#555" stroke-width="1"/>
<line x1="308.5" y1="130.1" x2="310.5" y2="130.1" stroke="#555" stroke-width="1"/>
<line x1="308.5" y1="106.74" x2="310.5" y2="106.74" stroke="#555" stroke-width="1"/>
<line x1="308.5" y1="83.39" x2="310.5" y2="83.39" stroke="#555" stroke-width="1"/>
<line x1="308.5" y1="60.03" x2="310.5" y2="60.03" stroke="#555" stroke-width="1"/>
<line x1="308.5" y1="36.68" x2="310.5" y2="36.68" stroke="#555" stroke-width="1"/>
<text transform="translate(309.3,14.6)" font-size="16.5" font-weight="bold" text-anchor="start" fill="#000">(b)</text>
<text transform="translate(455,42.5)" font-size="10.5" font-weight="bold" text-anchor="start" fill="#000">100 mVs<tspan font-size="7" dy="-4">-1</tspan></text>
<text transform="translate(346.3,220.5)" font-size="14" font-weight="bold" text-anchor="start" fill="#000" textLength="143.6" lengthAdjust="spacingAndGlyphs">Potential (V vs Ag/AgCl)</text>
<text transform="translate(283.5,158.5) rotate(-90)" font-size="14" font-weight="bold" text-anchor="start" fill="#000" textLength="127.5" lengthAdjust="spacingAndGlyphs">Current density (A/g)</text>
<path d="M328.5 110 C328.75 105 329.2 87.68 330 80 C330.8 72.32 331.47 68.53 333.3 63.9 C335.13 59.27 336.78 55.28 341 52.2 C345.22 49.12 351.77 46.7 358.6 45.4 C365.43 44.1 373.1 43.98 382 44.4 C390.9 44.82 400.83 46.6 412 47.9 C423.17 49.2 438 50.72 449 52.2 C460 53.68 470.83 55.95 478 56.8 C485.17 57.65 488.75 57.38 492 57.3 C495.25 57.22 496.58 56.47 497.5 56.3" fill="none" stroke="#ff0000" stroke-width="1.6" stroke-linejoin="round" stroke-linecap="round"/>
<path d="M497.5 56.3 C497.47 58.58 497.43 64.5 497.3 70 C497.17 75.5 497.2 83.7 496.7 89.3 C496.2 94.9 495.5 99.83 494.3 103.6 C493.1 107.37 491.88 109.52 489.5 111.9 C487.12 114.28 486.35 115.52 480 117.9 C473.65 120.28 462.12 123.35 451.4 126.2 C440.68 129.05 428.43 131.47 415.7 135 C402.97 138.53 384.17 144.47 375 147.4 C365.83 150.33 365.93 150.5 360.7 152.6 C355.47 154.7 348.37 157.43 343.6 160 C338.83 162.57 335.18 165.33 332.1 168 C329.02 170.67 326.27 174.67 325.1 176" fill="none" stroke="#ff0000" stroke-width="1.6" stroke-linejoin="round" stroke-linecap="round"/>
<path d="M325.1 176 C325.17 174.17 325.27 171 325.5 165 C325.73 159 326 149.17 326.5 140 C327 130.83 328.17 115 328.5 110" fill="none" stroke="#ff0000" stroke-width="1.6" stroke-linejoin="round" stroke-linecap="round"/>
<path d="M328.5 110 C328.75 105.83 328.87 92.37 330 85 C331.13 77.63 332.8 70.78 335.3 65.8 C337.8 60.82 339.5 57.43 345 55.1 C350.5 52.77 357.13 51.8 368.3 51.8 C379.47 51.8 398.55 54.03 412 55.1 C425.45 56.17 438 57.22 449 58.2 C460 59.18 470.83 60.5 478 61 C485.17 61.5 488.77 61.33 492 61.2 C495.23 61.07 496.5 60.37 497.4 60.2" fill="none" stroke="#0000ff" stroke-width="1.6" stroke-linejoin="round" stroke-linecap="round"/>
<path d="M497.4 60.2 C497.38 62.17 497.35 67.95 497.3 72 C497.25 76.05 497.4 80.03 497.1 84.5 C496.8 88.97 496.77 94.43 495.5 98.8 C494.23 103.17 492.88 107.72 489.5 110.7 C486.12 113.68 485.52 113.92 475.2 116.7 C464.88 119.48 441.08 124.35 427.6 127.4 C414.12 130.45 403.07 132.9 394.3 135 C385.53 137.1 380.6 138.5 375 140 C369.4 141.5 365.93 142.38 360.7 144 C355.47 145.62 348.37 147.7 343.6 149.7 C338.83 151.7 335.18 154 332.1 156 C329.02 158 326.27 160.75 325.1 161.7" fill="none" stroke="#0000ff" stroke-width="1.6" stroke-linejoin="round" stroke-linecap="round"/>
<path d="M325.1 161.7 C325.25 159.75 325.68 156.12 326 150 C326.32 143.88 326.58 131.67 327 125 C327.42 118.33 328.25 112.5 328.5 110" fill="none" stroke="#0000ff" stroke-width="1.6" stroke-linejoin="round" stroke-linecap="round"/>
<path d="M328.5 110 C328.83 106.33 329.05 95.05 330.5 88 C331.95 80.95 334.45 72.53 337.2 67.7 C339.95 62.87 341.17 61 347 59 C352.83 57 361.37 55.8 372.2 55.7 C383.03 55.6 399.2 57.48 412 58.4 C424.8 59.32 438 60.33 449 61.2 C460 62.07 470.83 63.22 478 63.6 C485.17 63.98 488.77 63.68 492 63.5 C495.23 63.32 496.5 62.67 497.4 62.5" fill="none" stroke="#00ee00" stroke-width="1.6" stroke-linejoin="round" stroke-linecap="round"/>
<path d="M497.4 62.5 C497.37 63.75 497.25 67.92 497.2 70 C497.15 72.08 497.18 72.58 497.1 75 C497.02 77.42 497.37 79.93 496.7 84.5 C496.03 89.07 495.08 98.03 493.1 102.4 C491.12 106.77 488.57 108.52 484.8 110.7 C481.03 112.88 480.03 113.32 470.5 115.5 C460.97 117.68 442.68 120.83 427.6 123.8 C412.52 126.77 391.15 130.85 380 133.3 C368.85 135.75 366.77 136.95 360.7 138.5 C354.63 140.05 348.37 141.02 343.6 142.6 C338.83 144.18 335.15 146.15 332.1 148 C329.05 149.85 326.43 152.75 325.3 153.7" fill="none" stroke="#00ee00" stroke-width="1.6" stroke-linejoin="round" stroke-linecap="round"/>
<path d="M325.3 153.7 C325.5 151.42 326.13 145.62 326.5 140 C326.87 134.38 327.17 125.83 327.5 120 C327.83 114.17 328.33 107.5 328.5 105" fill="none" stroke="#00ee00" stroke-width="1.6" stroke-linejoin="round" stroke-linecap="round"/>
<path d="M353.4 133.1 C353.58 130.57 353.98 122.92 354.5 117.9 C355.02 112.88 355.42 107.48 356.5 103 C357.58 98.52 359.08 94.33 361 91 C362.92 87.67 364.83 85.08 368 83 C371.17 80.92 374.5 79.4 380 78.5 C385.5 77.6 393.07 77.27 401 77.6 C408.93 77.93 415.23 79.43 427.6 80.5 C439.97 81.57 463.55 83.08 475.2 84 C486.85 84.92 493.78 85.67 497.5 86" fill="none" stroke="#000000" stroke-width="1.6" stroke-linejoin="round" stroke-linecap="round"/>
<path d="M497.5 86.3 C494.98 87.3 494.05 88.83 482.4 92.3 C470.75 95.77 444.67 102.05 427.6 107.1 C410.53 112.15 392.37 118.27 380 122.6 C367.63 126.93 357.83 131.35 353.4 133.1" fill="none" stroke="#000000" stroke-width="1.6" stroke-linejoin="round" stroke-linecap="round"/>
<line x1="449.8" y1="138" x2="463.4" y2="138" stroke="#000000" stroke-width="2"/>
<text transform="translate(466,142)" font-size="11.3" font-weight="bold" text-anchor="start" fill="#000" textLength="39.2" lengthAdjust="spacingAndGlyphs">ACCS-0</text>
<line x1="449.8" y1="150.3" x2="463.4" y2="150.3" stroke="#ff0000" stroke-width="2"/>
<text transform="translate(466,154.3)" font-size="11.3" font-weight="bold" text-anchor="start" fill="#000" textLength="39.2" lengthAdjust="spacingAndGlyphs">ACCS-1</text>
<line x1="449.8" y1="162.6" x2="463.4" y2="162.6" stroke="#0000ff" stroke-width="2"/>
<text transform="translate(466,166.6)" font-size="11.3" font-weight="bold" text-anchor="start" fill="#000" textLength="39.2" lengthAdjust="spacingAndGlyphs">ACCS-3</text>
<line x1="449.8" y1="174.9" x2="463.4" y2="174.9" stroke="#00ee00" stroke-width="2"/>
<text transform="translate(466,178.9)" font-size="11.3" font-weight="bold" text-anchor="start" fill="#000" textLength="39.2" lengthAdjust="spacingAndGlyphs">ACCS-5</text>
<rect x="44" y="246.5" width="201" height="164" fill="none" stroke="#858585" stroke-width="1.5"/>
<line x1="44" y1="410.5" x2="44" y2="413.5" stroke="#555" stroke-width="1"/>
<text transform="translate(44,425.7) scale(0.97,1)" font-size="14" font-weight="normal" text-anchor="middle" fill="#000">0</text>
<line x1="67.65" y1="410.5" x2="67.65" y2="413.5" stroke="#555" stroke-width="1"/>
<text transform="translate(67.65,425.7) scale(0.97,1)" font-size="14" font-weight="normal" text-anchor="middle" fill="#000">20</text>
<line x1="91.3" y1="410.5" x2="91.3" y2="413.5" stroke="#555" stroke-width="1"/>
<text transform="translate(91.3,425.7) scale(0.97,1)" font-size="14" font-weight="normal" text-anchor="middle" fill="#000">40</text>
<line x1="114.94" y1="410.5" x2="114.94" y2="413.5" stroke="#555" stroke-width="1"/>
<text transform="translate(114.94,425.7) scale(0.97,1)" font-size="14" font-weight="normal" text-anchor="middle" fill="#000">60</text>
<line x1="138.59" y1="410.5" x2="138.59" y2="413.5" stroke="#555" stroke-width="1"/>
<text transform="translate(138.59,425.7) scale(0.97,1)" font-size="14" font-weight="normal" text-anchor="middle" fill="#000">80</text>
<line x1="162.24" y1="410.5" x2="162.24" y2="413.5" stroke="#555" stroke-width="1"/>
<text transform="translate(162.24,425.7) scale(0.97,1)" font-size="14" font-weight="normal" text-anchor="middle" fill="#000">100</text>
<line x1="185.89" y1="410.5" x2="185.89" y2="413.5" stroke="#555" stroke-width="1"/>
<text transform="translate(185.89,425.7) scale(0.97,1)" font-size="14" font-weight="normal" text-anchor="middle" fill="#000">120</text>
<line x1="209.54" y1="410.5" x2="209.54" y2="413.5" stroke="#555" stroke-width="1"/>
<text transform="translate(209.54,425.7) scale(0.97,1)" font-size="14" font-weight="normal" text-anchor="middle" fill="#000">140</text>
<line x1="233.18" y1="410.5" x2="233.18" y2="413.5" stroke="#555" stroke-width="1"/>
<text transform="translate(233.18,425.7) scale(0.97,1)" font-size="14" font-weight="normal" text-anchor="middle" fill="#000">160</text>
<line x1="55.82" y1="410.5" x2="55.82" y2="412.5" stroke="#555" stroke-width="1"/>
<line x1="79.47" y1="410.5" x2="79.47" y2="412.5" stroke="#555" stroke-width="1"/>
<line x1="103.12" y1="410.5" x2="103.12" y2="412.5" stroke="#555" stroke-width="1"/>
<line x1="126.77" y1="410.5" x2="126.77" y2="412.5" stroke="#555" stroke-width="1"/>
<line x1="150.42" y1="410.5" x2="150.42" y2="412.5" stroke="#555" stroke-width="1"/>
<line x1="174.06" y1="410.5" x2="174.06" y2="412.5" stroke="#555" stroke-width="1"/>
<line x1="197.71" y1="410.5" x2="197.71" y2="412.5" stroke="#555" stroke-width="1"/>
<line x1="221.36" y1="410.5" x2="221.36" y2="412.5" stroke="#555" stroke-width="1"/>
<line x1="245.01" y1="410.5" x2="245.01" y2="412.5" stroke="#555" stroke-width="1"/>
<line x1="41" y1="410.56" x2="44" y2="410.56" stroke="#555" stroke-width="1"/>
<text transform="translate(41,414.96) scale(0.97,1)" font-size="14" font-weight="normal" text-anchor="end" fill="#000">-1.2</text>
<line x1="41" y1="385.32" x2="44" y2="385.32" stroke="#555" stroke-width="1"/>
<text transform="translate(41,389.72) scale(0.97,1)" font-size="14" font-weight="normal" text-anchor="end" fill="#000">-1.0</text>
<line x1="41" y1="360.08" x2="44" y2="360.08" stroke="#555" stroke-width="1"/>
<text transform="translate(41,364.48) scale(0.97,1)" font-size="14" font-weight="normal" text-anchor="end" fill="#000">-0.8</text>
<line x1="41" y1="334.84" x2="44" y2="334.84" stroke="#555" stroke-width="1"/>
<text transform="translate(41,339.24) scale(0.97,1)" font-size="14" font-weight="normal" text-anchor="end" fill="#000">-0.6</text>
<line x1="41" y1="309.6" x2="44" y2="309.6" stroke="#555" stroke-width="1"/>
<text transform="translate(41,314) scale(0.97,1)" font-size="14" font-weight="normal" text-anchor="end" fill="#000">-0.4</text>
<line x1="41" y1="284.36" x2="44" y2="284.36" stroke="#555" stroke-width="1"/>
<text transform="translate(41,288.76) scale(0.97,1)" font-size="14" font-weight="normal" text-anchor="end" fill="#000">-0.2</text>
<line x1="41" y1="259.12" x2="44" y2="259.12" stroke="#555" stroke-width="1"/>
<text transform="translate(41,263.52) scale(0.97,1)" font-size="14" font-weight="normal" text-anchor="end" fill="#000">0.0</text>
<line x1="42" y1="397.94" x2="44" y2="397.94" stroke="#555" stroke-width="1"/>
<line x1="42" y1="372.7" x2="44" y2="372.7" stroke="#555" stroke-width="1"/>
<line x1="42" y1="347.46" x2="44" y2="347.46" stroke="#555" stroke-width="1"/>
<line x1="42" y1="322.22" x2="44" y2="322.22" stroke="#555" stroke-width="1"/>
<line x1="42" y1="296.98" x2="44" y2="296.98" stroke="#555" stroke-width="1"/>
<line x1="42" y1="271.74" x2="44" y2="271.74" stroke="#555" stroke-width="1"/>
<line x1="42" y1="246.5" x2="44" y2="246.5" stroke="#555" stroke-width="1"/>
<text transform="translate(41,241)" font-size="16.5" font-weight="bold" text-anchor="start" fill="#000">(c)</text>
<text transform="translate(0,0)" font-size="9.8" font-weight="bold" text-anchor="start" fill="#000"><tspan x="55.6" y="262.9">2</tspan><tspan x="63.1" y="262.9">A</tspan><tspan x="72.5" y="262.9">g</tspan><tspan x="78.5" y="258.9" font-size="6.5">-1</tspan></text>
<text transform="translate(125.5,445.5)" font-size="14" font-weight="bold" text-anchor="start" fill="#000" textLength="48.8" lengthAdjust="spacingAndGlyphs">Time (s)</text>
<text transform="translate(11.5,403.8) rotate(-90)" font-size="13.5" font-weight="bold" text-anchor="start" fill="#000" textLength="148.6" lengthAdjust="spacingAndGlyphs">Potential (V vs. Ag/AgCl)</text>
<path d="M44 409.7 L46.28 404.92 L48.56 400.28 L50.85 395.77 L53.13 391.39 L55.41 387.13 L57.69 382.98 L59.97 378.93 L62.26 374.98 L64.54 371.12 L66.82 367.33 L69.1 363.62 L71.38 359.98 L73.67 356.39 L75.95 352.85 L78.23 349.35 L80.51 345.89 L82.79 342.46 L85.08 339.05 L87.36 335.65 L89.64 332.25 L91.92 328.85 L94.21 325.44 L96.49 322.02 L98.77 318.57 L101.05 315.08 L103.33 311.55 L105.62 307.98 L107.9 304.35 L110.18 300.66 L112.46 296.9 L114.74 293.06 L117.03 289.13 L119.31 285.11 L121.59 280.99 L123.87 276.76 L126.15 272.41 L128.44 267.94 L130.72 263.34 L133 258.6" fill="none" stroke="#ff0000" stroke-width="1.6" stroke-linejoin="round" stroke-linecap="round"/>
<path d="M133 258.6 L135.36 267.49 L137.71 275.89 L140.07 283.81 L142.43 291.29 L144.78 298.35 L147.14 305.01 L149.49 311.3 L151.85 317.24 L154.21 322.84 L156.56 328.13 L158.92 333.13 L161.28 337.86 L163.63 342.33 L165.99 346.57 L168.35 350.58 L170.7 354.39 L173.06 358.01 L175.42 361.46 L177.77 364.74 L180.13 367.87 L182.48 370.86 L184.84 373.73 L187.2 376.48 L189.55 379.13 L191.91 381.68 L194.27 384.13 L196.62 386.51 L198.98 388.81 L201.34 391.04 L203.69 393.21 L206.05 395.32 L208.41 397.37 L210.76 399.37 L213.12 401.32 L215.47 403.21 L217.83 405.06 L220.19 406.86 L222.54 408.6 L224.9 410.3" fill="none" stroke="#ff0000" stroke-width="1.6" stroke-linejoin="round" stroke-linecap="round"/>
<path d="M44 409.7 L45.8 405.91 L47.61 402.11 L49.41 398.31 L51.21 394.51 L53.01 390.7 L54.82 386.89 L56.62 383.07 L58.42 379.25 L60.22 375.43 L62.03 371.6 L63.83 367.76 L65.63 363.93 L67.43 360.08 L69.24 356.23 L71.04 352.38 L72.84 348.53 L74.64 344.67 L76.45 340.8 L78.25 336.93 L80.05 333.06 L81.85 329.18 L83.66 325.29 L85.46 321.41 L87.26 317.52 L89.06 313.62 L90.87 309.72 L92.67 305.81 L94.47 301.9 L96.27 297.99 L98.08 294.07 L99.88 290.15 L101.68 286.22 L103.48 282.29 L105.29 278.35 L107.09 274.41 L108.89 270.46 L110.69 266.52 L112.5 262.56 L114.3 258.6" fill="none" stroke="#0000ff" stroke-width="1.6" stroke-linejoin="round" stroke-linecap="round"/>
<path d="M114.3 258.6 L116.12 266.9 L117.95 274.67 L119.77 281.94 L121.59 288.75 L123.42 295.14 L125.24 301.14 L127.06 306.79 L128.88 312.11 L130.71 317.15 L132.53 321.92 L134.35 326.45 L136.18 330.78 L138 334.91 L139.82 338.87 L141.65 342.69 L143.47 346.37 L145.29 349.94 L147.12 353.41 L148.94 356.8 L150.76 360.1 L152.58 363.34 L154.41 366.52 L156.23 369.65 L158.05 372.72 L159.88 375.75 L161.7 378.73 L163.52 381.66 L165.35 384.54 L167.17 387.36 L168.99 390.12 L170.82 392.81 L172.64 395.43 L174.46 397.95 L176.28 400.36 L178.11 402.66 L179.93 404.82 L181.75 406.83 L183.58 408.66 L185.4 410.29" fill="none" stroke="#0000ff" stroke-width="1.6" stroke-linejoin="round" stroke-linecap="round"/>
<path d="M44 409.69 L45.61 406.09 L47.22 402.47 L48.83 398.83 L50.44 395.18 L52.05 391.52 L53.66 387.84 L55.27 384.15 L56.88 380.45 L58.49 376.73 L60.1 373 L61.71 369.25 L63.32 365.49 L64.93 361.71 L66.54 357.92 L68.15 354.12 L69.76 350.3 L71.37 346.47 L72.98 342.62 L74.59 338.76 L76.21 334.89 L77.82 331 L79.43 327.1 L81.04 323.18 L82.65 319.25 L84.26 315.31 L85.87 311.35 L87.48 307.38 L89.09 303.39 L90.7 299.39 L92.31 295.37 L93.92 291.34 L95.53 287.3 L97.14 283.24 L98.75 279.17 L100.36 275.09 L101.97 270.99 L103.58 266.87 L105.19 262.75 L106.8 258.6" fill="none" stroke="#00ee00" stroke-width="1.6" stroke-linejoin="round" stroke-linecap="round"/>
<path d="M106.8 258.6 L108.44 267.24 L110.09 275.26 L111.73 282.71 L113.37 289.64 L115.02 296.08 L116.66 302.09 L118.31 307.7 L119.95 312.95 L121.59 317.88 L123.24 322.52 L124.88 326.91 L126.52 331.07 L128.17 335.03 L129.81 338.82 L131.45 342.46 L133.1 345.97 L134.74 349.38 L136.38 352.69 L138.03 355.94 L139.67 359.12 L141.32 362.25 L142.96 365.34 L144.6 368.39 L146.25 371.42 L147.89 374.42 L149.53 377.39 L151.18 380.34 L152.82 383.26 L154.46 386.14 L156.11 388.98 L157.75 391.77 L159.39 394.49 L161.04 397.13 L162.68 399.68 L164.33 402.11 L165.97 404.42 L167.61 406.57 L169.26 408.53 L170.9 410.3" fill="none" stroke="#00ee00" stroke-width="1.6" stroke-linejoin="round" stroke-linecap="round"/>
<line x1="181" y1="263.6" x2="196" y2="263.6" stroke="#ff0000" stroke-width="2"/>
<text transform="translate(198,267.4)" font-size="11" font-weight="bold" text-anchor="start" fill="#000" textLength="39" lengthAdjust="spacingAndGlyphs">ACCS-1</text>
<line x1="181" y1="275.6" x2="196" y2="275.6" stroke="#0000ff" stroke-width="2"/>
<text transform="translate(198,279.4)" font-size="11" font-weight="bold" text-anchor="start" fill="#000" textLength="39" lengthAdjust="spacingAndGlyphs">ACCS-3</text>
<line x1="181" y1="287.6" x2="196" y2="287.6" stroke="#00ee00" stroke-width="2"/>
<text transform="translate(198,291.4)" font-size="11" font-weight="bold" text-anchor="start" fill="#000" textLength="39" lengthAdjust="spacingAndGlyphs">ACCS-5</text>
<rect x="308.4" y="249" width="206.6" height="166.8" fill="none" stroke="#858585" stroke-width="1.5"/>
<line x1="323.16" y1="415.8" x2="323.16" y2="415.8" stroke="#555" stroke-width="1"/>
<text transform="translate(323.16,431) scale(0.97,1)" font-size="14" font-weight="normal" text-anchor="middle" fill="#000">0</text>
<line x1="352.67" y1="415.8" x2="352.67" y2="415.8" stroke="#555" stroke-width="1"/>
<text transform="translate(352.67,431) scale(0.97,1)" font-size="14" font-weight="normal" text-anchor="middle" fill="#000">5</text>
<line x1="382.19" y1="415.8" x2="382.19" y2="415.8" stroke="#555" stroke-width="1"/>
<text transform="translate(382.19,431) scale(0.97,1)" font-size="14" font-weight="normal" text-anchor="middle" fill="#000">10</text>
<line x1="411.7" y1="415.8" x2="411.7" y2="415.8" stroke="#555" stroke-width="1"/>
<text transform="translate(411.7,431) scale(0.97,1)" font-size="14" font-weight="normal" text-anchor="middle" fill="#000">15</text>
<line x1="441.22" y1="415.8" x2="441.22" y2="415.8" stroke="#555" stroke-width="1"/>
<text transform="translate(441.22,431) scale(0.97,1)" font-size="14" font-weight="normal" text-anchor="middle" fill="#000">20</text>
<line x1="470.73" y1="415.8" x2="470.73" y2="415.8" stroke="#555" stroke-width="1"/>
<text transform="translate(470.73,431) scale(0.97,1)" font-size="14" font-weight="normal" text-anchor="middle" fill="#000">25</text>
<line x1="500.25" y1="415.8" x2="500.25" y2="415.8" stroke="#555" stroke-width="1"/>
<text transform="translate(500.25,431) scale(0.97,1)" font-size="14" font-weight="normal" text-anchor="middle" fill="#000">30</text>
<line x1="308.4" y1="415.8" x2="308.4" y2="417.8" stroke="#555" stroke-width="1"/>
<line x1="337.91" y1="415.8" x2="337.91" y2="417.8" stroke="#555" stroke-width="1"/>
<line x1="367.43" y1="415.8" x2="367.43" y2="417.8" stroke="#555" stroke-width="1"/>
<line x1="396.94" y1="415.8" x2="396.94" y2="417.8" stroke="#555" stroke-width="1"/>
<line x1="426.46" y1="415.8" x2="426.46" y2="417.8" stroke="#555" stroke-width="1"/>
<line x1="455.97" y1="415.8" x2="455.97" y2="417.8" stroke="#555" stroke-width="1"/>
<line x1="485.49" y1="415.8" x2="485.49" y2="417.8" stroke="#555" stroke-width="1"/>
<line x1="515" y1="415.8" x2="515" y2="417.8" stroke="#555" stroke-width="1"/>
<line x1="305.4" y1="415.81" x2="308.4" y2="415.81" stroke="#555" stroke-width="1"/>
<text transform="translate(302.4,418.81) scale(0.9,1)" font-size="12" font-weight="normal" text-anchor="end" fill="#000">20</text>
<line x1="305.4" y1="397.27" x2="308.4" y2="397.27" stroke="#555" stroke-width="1"/>
<text transform="translate(302.4,400.27) scale(0.9,1)" font-size="12" font-weight="normal" text-anchor="end" fill="#000">40</text>
<line x1="305.4" y1="378.74" x2="308.4" y2="378.74" stroke="#555" stroke-width="1"/>
<text transform="translate(302.4,381.74) scale(0.9,1)" font-size="12" font-weight="normal" text-anchor="end" fill="#000">60</text>
<line x1="305.4" y1="360.2" x2="308.4" y2="360.2" stroke="#555" stroke-width="1"/>
<text transform="translate(302.4,363.2) scale(0.9,1)" font-size="12" font-weight="normal" text-anchor="end" fill="#000">80</text>
<line x1="305.4" y1="341.67" x2="308.4" y2="341.67" stroke="#555" stroke-width="1"/>
<text transform="translate(302.4,344.67) scale(0.9,1)" font-size="12" font-weight="normal" text-anchor="end" fill="#000">100</text>
<line x1="305.4" y1="323.14" x2="308.4" y2="323.14" stroke="#555" stroke-width="1"/>
<text transform="translate(302.4,326.14) scale(0.9,1)" font-size="12" font-weight="normal" text-anchor="end" fill="#000">120</text>
<line x1="305.4" y1="304.6" x2="308.4" y2="304.6" stroke="#555" stroke-width="1"/>
<text transform="translate(302.4,307.6) scale(0.9,1)" font-size="12" font-weight="normal" text-anchor="end" fill="#000">140</text>
<line x1="305.4" y1="286.07" x2="308.4" y2="286.07" stroke="#555" stroke-width="1"/>
<text transform="translate(302.4,289.07) scale(0.9,1)" font-size="12" font-weight="normal" text-anchor="end" fill="#000">160</text>
<line x1="305.4" y1="267.53" x2="308.4" y2="267.53" stroke="#555" stroke-width="1"/>
<text transform="translate(302.4,270.53) scale(0.9,1)" font-size="12" font-weight="normal" text-anchor="end" fill="#000">180</text>
<line x1="305.4" y1="249" x2="308.4" y2="249" stroke="#555" stroke-width="1"/>
<text transform="translate(302.4,252) scale(0.9,1)" font-size="12" font-weight="normal" text-anchor="end" fill="#000">200</text>
<line x1="306.4" y1="406.54" x2="308.4" y2="406.54" stroke="#555" stroke-width="1"/>
<line x1="306.4" y1="388" x2="308.4" y2="388" stroke="#555" stroke-width="1"/>
<line x1="306.4" y1="369.47" x2="308.4" y2="369.47" stroke="#555" stroke-width="1"/>
<line x1="306.4" y1="350.94" x2="308.4" y2="350.94" stroke="#555" stroke-width="1"/>
<line x1="306.4" y1="332.4" x2="308.4" y2="332.4" stroke="#555" stroke-width="1"/>
<line x1="306.4" y1="313.87" x2="308.4" y2="313.87" stroke="#555" stroke-width="1"/>
<line x1="306.4" y1="295.33" x2="308.4" y2="295.33" stroke="#555" stroke-width="1"/>
<line x1="306.4" y1="276.8" x2="308.4" y2="276.8" stroke="#555" stroke-width="1"/>
<line x1="306.4" y1="258.27" x2="308.4" y2="258.27" stroke="#555" stroke-width="1"/>
<text transform="translate(307.9,241.2)" font-size="16.5" font-weight="bold" text-anchor="start" fill="#000">(d)</text>
<text transform="translate(338.7,445)" font-size="15.5" font-weight="bold" text-anchor="start" fill="#000" textLength="143.6" lengthAdjust="spacingAndGlyphs">Current density (A/g)</text>
<text transform="translate(280,418.8) rotate(-90)" font-size="15.5" font-weight="bold" text-anchor="start" fill="#000" textLength="172" lengthAdjust="spacingAndGlyphs">Specific capacitance (F/g)</text>
<line x1="334.96" y1="260.31" x2="334.96" y2="284.03" stroke="#f4a8a8" stroke-width="0.7"/>
<line x1="333.46" y1="260.31" x2="336.46" y2="260.31" stroke="#f4a8a8" stroke-width="0.8"/>
<line x1="333.46" y1="284.03" x2="336.46" y2="284.03" stroke="#f4a8a8" stroke-width="0.8"/>
<line x1="352.67" y1="279.67" x2="352.67" y2="299.88" stroke="#f4a8a8" stroke-width="0.7"/>
<line x1="351.17" y1="279.67" x2="354.17" y2="279.67" stroke="#f4a8a8" stroke-width="0.8"/>
<line x1="351.17" y1="299.88" x2="354.17" y2="299.88" stroke="#f4a8a8" stroke-width="0.8"/>
<line x1="382.19" y1="287.64" x2="382.19" y2="308.59" stroke="#f4a8a8" stroke-width="0.7"/>
<line x1="380.69" y1="287.64" x2="383.69" y2="287.64" stroke="#f4a8a8" stroke-width="0.8"/>
<line x1="380.69" y1="308.59" x2="383.69" y2="308.59" stroke="#f4a8a8" stroke-width="0.8"/>
<line x1="411.7" y1="292" x2="411.7" y2="311.64" stroke="#f4a8a8" stroke-width="0.7"/>
<line x1="410.2" y1="292" x2="413.2" y2="292" stroke="#f4a8a8" stroke-width="0.8"/>
<line x1="410.2" y1="311.64" x2="413.2" y2="311.64" stroke="#f4a8a8" stroke-width="0.8"/>
<line x1="441.22" y1="294.59" x2="441.22" y2="313.5" stroke="#f4a8a8" stroke-width="0.7"/>
<line x1="439.72" y1="294.59" x2="442.72" y2="294.59" stroke="#f4a8a8" stroke-width="0.8"/>
<line x1="439.72" y1="313.5" x2="442.72" y2="313.5" stroke="#f4a8a8" stroke-width="0.8"/>
<line x1="500.25" y1="297.28" x2="500.25" y2="317.48" stroke="#f4a8a8" stroke-width="0.7"/>
<line x1="498.75" y1="297.28" x2="501.75" y2="297.28" stroke="#f4a8a8" stroke-width="0.8"/>
<line x1="498.75" y1="317.48" x2="501.75" y2="317.48" stroke="#f4a8a8" stroke-width="0.8"/>
<line x1="334.96" y1="279.12" x2="334.96" y2="304.14" stroke="#a8a8f4" stroke-width="0.7"/>
<line x1="333.46" y1="279.12" x2="336.46" y2="279.12" stroke="#a8a8f4" stroke-width="0.8"/>
<line x1="333.46" y1="304.14" x2="336.46" y2="304.14" stroke="#a8a8f4" stroke-width="0.8"/>
<line x1="352.67" y1="297.19" x2="352.67" y2="317.58" stroke="#a8a8f4" stroke-width="0.7"/>
<line x1="351.17" y1="297.19" x2="354.17" y2="297.19" stroke="#a8a8f4" stroke-width="0.8"/>
<line x1="351.17" y1="317.58" x2="354.17" y2="317.58" stroke="#a8a8f4" stroke-width="0.8"/>
<line x1="382.19" y1="304.14" x2="382.19" y2="323.6" stroke="#a8a8f4" stroke-width="0.7"/>
<line x1="380.69" y1="304.14" x2="383.69" y2="304.14" stroke="#a8a8f4" stroke-width="0.8"/>
<line x1="380.69" y1="323.6" x2="383.69" y2="323.6" stroke="#a8a8f4" stroke-width="0.8"/>
<line x1="411.7" y1="307.38" x2="411.7" y2="325.92" stroke="#a8a8f4" stroke-width="0.7"/>
<line x1="410.2" y1="307.38" x2="413.2" y2="307.38" stroke="#a8a8f4" stroke-width="0.8"/>
<line x1="410.2" y1="325.92" x2="413.2" y2="325.92" stroke="#a8a8f4" stroke-width="0.8"/>
<line x1="441.22" y1="309.24" x2="441.22" y2="327.77" stroke="#a8a8f4" stroke-width="0.7"/>
<line x1="439.72" y1="309.24" x2="442.72" y2="309.24" stroke="#a8a8f4" stroke-width="0.8"/>
<line x1="439.72" y1="327.77" x2="442.72" y2="327.77" stroke="#a8a8f4" stroke-width="0.8"/>
<line x1="500.25" y1="311.55" x2="500.25" y2="330.09" stroke="#a8a8f4" stroke-width="0.7"/>
<line x1="498.75" y1="311.55" x2="501.75" y2="311.55" stroke="#a8a8f4" stroke-width="0.8"/>
<line x1="498.75" y1="330.09" x2="501.75" y2="330.09" stroke="#a8a8f4" stroke-width="0.8"/>
<line x1="334.96" y1="282.08" x2="334.96" y2="304.88" stroke="#98dc98" stroke-width="0.7"/>
<line x1="333.46" y1="282.08" x2="336.46" y2="282.08" stroke="#98dc98" stroke-width="0.8"/>
<line x1="333.46" y1="304.88" x2="336.46" y2="304.88" stroke="#98dc98" stroke-width="0.8"/>
<line x1="352.67" y1="299.78" x2="352.67" y2="318.69" stroke="#98dc98" stroke-width="0.7"/>
<line x1="351.17" y1="299.78" x2="354.17" y2="299.78" stroke="#98dc98" stroke-width="0.8"/>
<line x1="351.17" y1="318.69" x2="354.17" y2="318.69" stroke="#98dc98" stroke-width="0.8"/>
<line x1="382.19" y1="306.73" x2="382.19" y2="324.71" stroke="#98dc98" stroke-width="0.7"/>
<line x1="380.69" y1="306.73" x2="383.69" y2="306.73" stroke="#98dc98" stroke-width="0.8"/>
<line x1="380.69" y1="324.71" x2="383.69" y2="324.71" stroke="#98dc98" stroke-width="0.8"/>
<line x1="411.7" y1="309.98" x2="411.7" y2="327.03" stroke="#98dc98" stroke-width="0.7"/>
<line x1="410.2" y1="309.98" x2="413.2" y2="309.98" stroke="#98dc98" stroke-width="0.8"/>
<line x1="410.2" y1="327.03" x2="413.2" y2="327.03" stroke="#98dc98" stroke-width="0.8"/>
<line x1="441.22" y1="311.74" x2="441.22" y2="328.97" stroke="#98dc98" stroke-width="0.7"/>
<line x1="439.72" y1="311.74" x2="442.72" y2="311.74" stroke="#98dc98" stroke-width="0.8"/>
<line x1="439.72" y1="328.97" x2="442.72" y2="328.97" stroke="#98dc98" stroke-width="0.8"/>
<line x1="500.25" y1="314.33" x2="500.25" y2="331.01" stroke="#98dc98" stroke-width="0.7"/>
<line x1="498.75" y1="314.33" x2="501.75" y2="314.33" stroke="#98dc98" stroke-width="0.8"/>
<line x1="498.75" y1="331.01" x2="501.75" y2="331.01" stroke="#98dc98" stroke-width="0.8"/>
<path d="M334.96 272.17 L352.67 289.77 L382.19 298.12 L411.7 301.82 L441.22 304.05 L500.25 307.38" fill="none" stroke="#ff0000" stroke-width="1.5" stroke-linejoin="round" stroke-linecap="round"/>
<circle cx="334.96" cy="272.17" r="2.6" fill="#ff0000"/>
<circle cx="352.67" cy="289.77" r="2.6" fill="#ff0000"/>
<circle cx="382.19" cy="298.12" r="2.6" fill="#ff0000"/>
<circle cx="411.7" cy="301.82" r="2.6" fill="#ff0000"/>
<circle cx="441.22" cy="304.05" r="2.6" fill="#ff0000"/>
<circle cx="500.25" cy="307.38" r="2.6" fill="#ff0000"/>
<path d="M334.96 291.63 L352.67 307.38 L382.19 313.87 L411.7 316.65 L441.22 318.5 L500.25 320.82" fill="none" stroke="#0000ff" stroke-width="1.5" stroke-linejoin="round" stroke-linecap="round"/>
<path d="M334.96 288.63 l2.8 4.6 h-5.6z" fill="#0000ff"/>
<path d="M352.67 304.38 l2.8 4.6 h-5.6z" fill="#0000ff"/>
<path d="M382.19 310.87 l2.8 4.6 h-5.6z" fill="#0000ff"/>
<path d="M411.7 313.65 l2.8 4.6 h-5.6z" fill="#0000ff"/>
<path d="M441.22 315.5 l2.8 4.6 h-5.6z" fill="#0000ff"/>
<path d="M500.25 317.82 l2.8 4.6 h-5.6z" fill="#0000ff"/>
<path d="M334.96 293.48 L352.67 309.24 L382.19 315.72 L411.7 318.5 L441.22 320.36 L500.25 322.67" fill="none" stroke="#00ee00" stroke-width="1.5" stroke-linejoin="round" stroke-linecap="round"/>
<path d="M334.96 296.48 l2.8 -4.6 h-5.6z" fill="#00ee00"/>
<path d="M352.67 312.24 l2.8 -4.6 h-5.6z" fill="#00ee00"/>
<path d="M382.19 318.72 l2.8 -4.6 h-5.6z" fill="#00ee00"/>
<path d="M411.7 321.5 l2.8 -4.6 h-5.6z" fill="#00ee00"/>
<path d="M441.22 323.36 l2.8 -4.6 h-5.6z" fill="#00ee00"/>
<path d="M500.25 325.67 l2.8 -4.6 h-5.6z" fill="#00ee00"/>
<path d="M334.96 390.6 L352.67 400.89 L382.19 406.45 L411.7 408.11 L441.22 409.69 L500.25 411.54" fill="none" stroke="#000000" stroke-width="1.3" stroke-linejoin="round" stroke-linecap="round"/>
<rect x="332.96" y="388.6" width="4" height="4" fill="#000000"/>
<rect x="350.67" y="398.89" width="4" height="4" fill="#000000"/>
<rect x="380.19" y="404.45" width="4" height="4" fill="#000000"/>
<rect x="409.7" y="406.11" width="4" height="4" fill="#000000"/>
<rect x="439.22" y="407.69" width="4" height="4" fill="#000000"/>
<rect x="498.25" y="409.54" width="4" height="4" fill="#000000"/>
<line x1="440" y1="346.4" x2="459.6" y2="346.4" stroke="#000000" stroke-width="1.5"/>
<rect x="448.2" y="344.6" width="3.6" height="3.6" fill="#000000"/>
<text transform="translate(463,350.2)" font-size="10.5" font-weight="bold" text-anchor="start" fill="#000" textLength="35" lengthAdjust="spacingAndGlyphs">ACCS-0</text>
<line x1="440" y1="359" x2="459.6" y2="359" stroke="#ff0000" stroke-width="1.5"/>
<circle cx="450" cy="359" r="2.2" fill="#ff0000"/>
<text transform="translate(463,362.8)" font-size="10.5" font-weight="bold" text-anchor="start" fill="#000" textLength="35" lengthAdjust="spacingAndGlyphs">ACCS-1</text>
<line x1="440" y1="371.6" x2="459.6" y2="371.6" stroke="#0000ff" stroke-width="1.5"/>
<path d="M450 369 l2.5 4 h-5z" fill="#0000ff"/>
<text transform="translate(463,375.4)" font-size="10.5" font-weight="bold" text-anchor="start" fill="#000" textLength="35" lengthAdjust="spacingAndGlyphs">ACCS-3</text>
<line x1="440" y1="384.2" x2="459.6" y2="384.2" stroke="#00ee00" stroke-width="1.5"/>
<path d="M450 386.8 l2.5 -4 h-5z" fill="#00ee00"/>
<text transform="translate(463,388)" font-size="10.5" font-weight="bold" text-anchor="start" fill="#000" textLength="35" lengthAdjust="spacingAndGlyphs">ACCS-5</text>
<rect x="49" y="471" width="196.7" height="159" fill="none" stroke="#858585" stroke-width="1.5"/>
<line x1="64.13" y1="630" x2="64.13" y2="633" stroke="#555" stroke-width="1"/>
<text transform="translate(64.13,645.2) scale(0.97,1)" font-size="14" font-weight="normal" text-anchor="middle" fill="#000">1</text>
<line x1="94.39" y1="630" x2="94.39" y2="633" stroke="#555" stroke-width="1"/>
<text transform="translate(94.39,645.2) scale(0.97,1)" font-size="14" font-weight="normal" text-anchor="middle" fill="#000">2</text>
<line x1="124.65" y1="630" x2="124.65" y2="633" stroke="#555" stroke-width="1"/>
<text transform="translate(124.65,645.2) scale(0.97,1)" font-size="14" font-weight="normal" text-anchor="middle" fill="#000">3</text>
<line x1="154.91" y1="630" x2="154.91" y2="633" stroke="#555" stroke-width="1"/>
<text transform="translate(154.91,645.2) scale(0.97,1)" font-size="14" font-weight="normal" text-anchor="middle" fill="#000">4</text>
<line x1="185.17" y1="630" x2="185.17" y2="633" stroke="#555" stroke-width="1"/>
<text transform="translate(185.17,645.2) scale(0.97,1)" font-size="14" font-weight="normal" text-anchor="middle" fill="#000">5</text>
<line x1="215.43" y1="630" x2="215.43" y2="633" stroke="#555" stroke-width="1"/>
<text transform="translate(215.43,645.2) scale(0.97,1)" font-size="14" font-weight="normal" text-anchor="middle" fill="#000">6</text>
<line x1="245.69" y1="630" x2="245.69" y2="633" stroke="#555" stroke-width="1"/>
<text transform="translate(245.69,645.2) scale(0.97,1)" font-size="14" font-weight="normal" text-anchor="middle" fill="#000">7</text>
<line x1="79.26" y1="630" x2="79.26" y2="632" stroke="#555" stroke-width="1"/>
<line x1="109.52" y1="630" x2="109.52" y2="632" stroke="#555" stroke-width="1"/>
<line x1="139.78" y1="630" x2="139.78" y2="632" stroke="#555" stroke-width="1"/>
<line x1="170.04" y1="630" x2="170.04" y2="632" stroke="#555" stroke-width="1"/>
<line x1="200.3" y1="630" x2="200.3" y2="632" stroke="#555" stroke-width="1"/>
<line x1="230.56" y1="630" x2="230.56" y2="632" stroke="#555" stroke-width="1"/>
<line x1="46" y1="620.07" x2="49" y2="620.07" stroke="#555" stroke-width="1"/>
<text transform="translate(45,624.47) scale(0.97,1)" font-size="14" font-weight="normal" text-anchor="end" fill="#000">0</text>
<line x1="46" y1="595.23" x2="49" y2="595.23" stroke="#555" stroke-width="1"/>
<text transform="translate(45,599.62) scale(0.97,1)" font-size="14" font-weight="normal" text-anchor="end" fill="#000">5</text>
<line x1="46" y1="570.38" x2="49" y2="570.38" stroke="#555" stroke-width="1"/>
<text transform="translate(45,574.78) scale(0.97,1)" font-size="14" font-weight="normal" text-anchor="end" fill="#000">10</text>
<line x1="46" y1="545.53" x2="49" y2="545.53" stroke="#555" stroke-width="1"/>
<text transform="translate(45,549.93) scale(0.97,1)" font-size="14" font-weight="normal" text-anchor="end" fill="#000">15</text>
<line x1="46" y1="520.69" x2="49" y2="520.69" stroke="#555" stroke-width="1"/>
<text transform="translate(45,525.09) scale(0.97,1)" font-size="14" font-weight="normal" text-anchor="end" fill="#000">20</text>
<line x1="46" y1="495.85" x2="49" y2="495.85" stroke="#555" stroke-width="1"/>
<text transform="translate(45,500.25) scale(0.97,1)" font-size="14" font-weight="normal" text-anchor="end" fill="#000">25</text>
<line x1="46" y1="471" x2="49" y2="471" stroke="#555" stroke-width="1"/>
<text transform="translate(45,475.4) scale(0.97,1)" font-size="14" font-weight="normal" text-anchor="end" fill="#000">30</text>
<line x1="47" y1="607.65" x2="49" y2="607.65" stroke="#555" stroke-width="1"/>
<line x1="47" y1="582.8" x2="49" y2="582.8" stroke="#555" stroke-width="1"/>
<line x1="47" y1="557.96" x2="49" y2="557.96" stroke="#555" stroke-width="1"/>
<line x1="47" y1="533.11" x2="49" y2="533.11" stroke="#555" stroke-width="1"/>
<line x1="47" y1="508.27" x2="49" y2="508.27" stroke="#555" stroke-width="1"/>
<line x1="47" y1="483.42" x2="49" y2="483.42" stroke="#555" stroke-width="1"/>
<text transform="translate(46,463.3)" font-size="16.5" font-weight="bold" text-anchor="start" fill="#000">(e)</text>
<text transform="translate(130.4,664.6)" font-size="13" font-weight="bold" text-anchor="start" fill="#000" textLength="55.8" lengthAdjust="spacingAndGlyphs">Z' (Ohm)</text>
<text transform="translate(14.8,571.5) rotate(-90)" font-size="13" font-weight="bold" text-anchor="start" fill="#000" textLength="61" lengthAdjust="spacingAndGlyphs">Z'' (Ohm)</text>
<path d="M59.6 620.7 L61.5 619.3 L63.5 618.2 L65.3 616.9 L67 615.3 L68.7 613.6 L70 611.8 L71 609.8 L72.2 607.9 L73.4 606 L75.8 602.1 L79 596.4 L84.2 589.2 L90.9 579.6 L101.3 567.1 L115.3 550.2" fill="none" stroke="#999" stroke-width="0.8" stroke-linejoin="round" stroke-linecap="round"/>
<path d="M61.5 619.8 L63.5 619.4 L65.3 618.8 L67.8 617.7 L70.1 616.4 L72 614.6 L73.9 612.6 L75.2 611 L76.3 609.3 L77.5 607.4 L78.7 605.5 L81 601.2 L84.4 595.5 L89.6 588.3 L96 578.3 L107 565.2 L121.7 547.3 L146.5 525.4" fill="none" stroke="#8888ff" stroke-width="0.8" stroke-linejoin="round" stroke-linecap="round"/>
<path d="M60 620.5 L62 620.2 L64 619.8 L66 619.2 L68 618.5 L70 617.6 L72 616.5 L74 615.3 L76 613.8 L78.7 611.7 L80.6 609.8 L83.4 606.4 L87.2 602.6 L91 597.4 L96.8 591.2 L103.8 582.9 L113.8 571.5 L126.9 556.9 L146 537.7 L170.6 512.3 L207 480" fill="none" stroke="#ff8888" stroke-width="0.8" stroke-linejoin="round" stroke-linecap="round"/>
<path d="M60.6 621.2 L62.5 621.6 L64.4 621.7 L66.5 621.2 L68.3 620.5 L70.1 619.8 L72 618.9 L73.9 617.8 L75.8 616.4 L77.5 615.2 L79 614 L80.6 612.6 L82.8 610.3 L84.9 607.9 L88.2 604.5 L93 599.8 L98.7 594 L106.3 585.4 L116.7 575.4 L132 562.3 L152.3 544.7 L184.4 522.3" fill="none" stroke="#88ff88" stroke-width="0.8" stroke-linejoin="round" stroke-linecap="round"/>
<rect x="58.1" y="619.2" width="3" height="3" fill="#000000"/>
<rect x="60" y="617.8" width="3" height="3" fill="#000000"/>
<rect x="62" y="616.7" width="3" height="3" fill="#000000"/>
<rect x="63.8" y="615.4" width="3" height="3" fill="#000000"/>
<rect x="65.5" y="613.8" width="3" height="3" fill="#000000"/>
<rect x="67.2" y="612.1" width="3" height="3" fill="#000000"/>
<rect x="68.5" y="610.3" width="3" height="3" fill="#000000"/>
<rect x="69.5" y="608.3" width="3" height="3" fill="#000000"/>
<rect x="70.7" y="606.4" width="3" height="3" fill="#000000"/>
<rect x="71.9" y="604.5" width="3" height="3" fill="#000000"/>
<rect x="73.8" y="600.1" width="4" height="4" fill="#000000"/>
<rect x="77" y="594.4" width="4" height="4" fill="#000000"/>
<rect x="82.2" y="587.2" width="4" height="4" fill="#000000"/>
<rect x="88.9" y="577.6" width="4" height="4" fill="#000000"/>
<rect x="99.3" y="565.1" width="4" height="4" fill="#000000"/>
<rect x="113.3" y="548.2" width="4" height="4" fill="#000000"/>
<path d="M61.5 617.64 l2.4 3.84 h-4.8z" fill="#0000ff"/>
<path d="M63.5 617.24 l2.4 3.84 h-4.8z" fill="#0000ff"/>
<path d="M65.3 616.64 l2.4 3.84 h-4.8z" fill="#0000ff"/>
<path d="M67.8 615.54 l2.4 3.84 h-4.8z" fill="#0000ff"/>
<path d="M70.1 614.24 l2.4 3.84 h-4.8z" fill="#0000ff"/>
<path d="M72 612.44 l2.4 3.84 h-4.8z" fill="#0000ff"/>
<path d="M73.9 610.44 l2.4 3.84 h-4.8z" fill="#0000ff"/>
<path d="M75.2 608.84 l2.4 3.84 h-4.8z" fill="#0000ff"/>
<path d="M76.3 607.14 l2.4 3.84 h-4.8z" fill="#0000ff"/>
<path d="M77.5 605.24 l2.4 3.84 h-4.8z" fill="#0000ff"/>
<path d="M78.7 603.34 l2.4 3.84 h-4.8z" fill="#0000ff"/>
<path d="M81 598.5 l3 4.8 h-6z" fill="#0000ff"/>
<path d="M84.4 592.8 l3 4.8 h-6z" fill="#0000ff"/>
<path d="M89.6 585.6 l3 4.8 h-6z" fill="#0000ff"/>
<path d="M96 575.6 l3 4.8 h-6z" fill="#0000ff"/>
<path d="M107 562.5 l3 4.8 h-6z" fill="#0000ff"/>
<path d="M121.7 544.6 l3 4.8 h-6z" fill="#0000ff"/>
<path d="M146.5 522.7 l3 4.8 h-6z" fill="#0000ff"/>
<circle cx="60" cy="620.5" r="1.84" fill="#ff0000"/>
<circle cx="62" cy="620.2" r="1.84" fill="#ff0000"/>
<circle cx="64" cy="619.8" r="1.84" fill="#ff0000"/>
<circle cx="66" cy="619.2" r="1.84" fill="#ff0000"/>
<circle cx="68" cy="618.5" r="1.84" fill="#ff0000"/>
<circle cx="70" cy="617.6" r="1.84" fill="#ff0000"/>
<circle cx="72" cy="616.5" r="1.84" fill="#ff0000"/>
<circle cx="74" cy="615.3" r="1.84" fill="#ff0000"/>
<circle cx="76" cy="613.8" r="1.84" fill="#ff0000"/>
<circle cx="78.7" cy="611.7" r="1.84" fill="#ff0000"/>
<circle cx="80.6" cy="609.8" r="2.3" fill="#ff0000"/>
<circle cx="83.4" cy="606.4" r="2.3" fill="#ff0000"/>
<circle cx="87.2" cy="602.6" r="2.3" fill="#ff0000"/>
<circle cx="91" cy="597.4" r="2.3" fill="#ff0000"/>
<circle cx="96.8" cy="591.2" r="2.3" fill="#ff0000"/>
<circle cx="103.8" cy="582.9" r="2.3" fill="#ff0000"/>
<circle cx="113.8" cy="571.5" r="2.3" fill="#ff0000"/>
<circle cx="126.9" cy="556.9" r="2.3" fill="#ff0000"/>
<circle cx="146" cy="537.7" r="2.3" fill="#ff0000"/>
<circle cx="170.6" cy="512.3" r="2.3" fill="#ff0000"/>
<circle cx="207" cy="480" r="2.3" fill="#ff0000"/>
<path d="M60.6 623.5 l2.55 -4.08 h-5.1z" fill="#00ee00"/>
<path d="M62.5 623.89 l2.55 -4.08 h-5.1z" fill="#00ee00"/>
<path d="M64.4 624 l2.55 -4.08 h-5.1z" fill="#00ee00"/>
<path d="M66.5 623.5 l2.55 -4.08 h-5.1z" fill="#00ee00"/>
<path d="M68.3 622.79 l2.55 -4.08 h-5.1z" fill="#00ee00"/>
<path d="M70.1 622.09 l2.55 -4.08 h-5.1z" fill="#00ee00"/>
<path d="M72 621.19 l2.55 -4.08 h-5.1z" fill="#00ee00"/>
<path d="M73.9 620.09 l2.55 -4.08 h-5.1z" fill="#00ee00"/>
<path d="M75.8 618.69 l2.55 -4.08 h-5.1z" fill="#00ee00"/>
<path d="M77.5 617.5 l2.55 -4.08 h-5.1z" fill="#00ee00"/>
<path d="M79 616.29 l2.55 -4.08 h-5.1z" fill="#00ee00"/>
<path d="M80.6 614.89 l2.55 -4.08 h-5.1z" fill="#00ee00"/>
<path d="M82.8 612.59 l2.55 -4.08 h-5.1z" fill="#00ee00"/>
<path d="M84.9 610.19 l2.55 -4.08 h-5.1z" fill="#00ee00"/>
<path d="M88.2 607.2 l3 -4.8 h-6z" fill="#00ee00"/>
<path d="M93 602.5 l3 -4.8 h-6z" fill="#00ee00"/>
<path d="M98.7 596.7 l3 -4.8 h-6z" fill="#00ee00"/>
<path d="M106.3 588.1 l3 -4.8 h-6z" fill="#00ee00"/>
<path d="M116.7 578.1 l3 -4.8 h-6z" fill="#00ee00"/>
<path d="M132 565 l3 -4.8 h-6z" fill="#00ee00"/>
<path d="M152.3 547.4 l3 -4.8 h-6z" fill="#00ee00"/>
<path d="M184.4 525 l3 -4.8 h-6z" fill="#00ee00"/>
<circle cx="60" cy="620.5" r="2.18" fill="#ff0000"/>
<line x1="60.5" y1="484.1" x2="75" y2="484.1" stroke="#bbb" stroke-width="1"/>
<rect x="66.1" y="482.4" width="3.4" height="3.4" fill="#000000"/>
<text transform="translate(78.2,487.6)" font-size="10" font-weight="bold" text-anchor="start" fill="#000" textLength="34.3" lengthAdjust="spacingAndGlyphs">ACCS-0</text>
<line x1="60.5" y1="494.95" x2="75" y2="494.95" stroke="#fbb" stroke-width="1"/>
<circle cx="67.8" cy="494.95" r="1.95" fill="#ff0000"/>
<text transform="translate(78.2,498.45)" font-size="10" font-weight="bold" text-anchor="start" fill="#000" textLength="34.3" lengthAdjust="spacingAndGlyphs">ACCS-1</text>
<line x1="60.5" y1="505.8" x2="75" y2="505.8" stroke="#aaf" stroke-width="1"/>
<path d="M67.8 503.5 l2.55 4.08 h-5.1z" fill="#0000ff"/>
<text transform="translate(78.2,509.3)" font-size="10" font-weight="bold" text-anchor="start" fill="#000" textLength="34.3" lengthAdjust="spacingAndGlyphs">ACCS-3</text>
<line x1="60.5" y1="516.65" x2="75" y2="516.65" stroke="#afa" stroke-width="1"/>
<path d="M67.8 518.94 l2.55 -4.08 h-5.1z" fill="#00ee00"/>
<text transform="translate(78.2,520.15)" font-size="10" font-weight="bold" text-anchor="start" fill="#000" textLength="34.3" lengthAdjust="spacingAndGlyphs">ACCS-5</text>
<rect x="159.4" y="556.9" width="76.0" height="61.60000000000002" fill="#fff" stroke="#444" stroke-width="1"/>
<line x1="159.4" y1="618.5" x2="159.4" y2="617" stroke="#333" stroke-width="0.6"/>
<text transform="translate(159.4,624.5) scale(0.95,1)" font-size="5.5" font-weight="normal" text-anchor="middle" fill="#000">0.8</text>
<line x1="174.6" y1="618.5" x2="174.6" y2="617" stroke="#333" stroke-width="0.6"/>
<text transform="translate(174.6,624.5) scale(0.95,1)" font-size="5.5" font-weight="normal" text-anchor="middle" fill="#000">0.9</text>
<line x1="189.8" y1="618.5" x2="189.8" y2="617" stroke="#333" stroke-width="0.6"/>
<text transform="translate(189.8,624.5) scale(0.95,1)" font-size="5.5" font-weight="normal" text-anchor="middle" fill="#000">1.0</text>
<line x1="205" y1="618.5" x2="205" y2="617" stroke="#333" stroke-width="0.6"/>
<text transform="translate(205,624.5) scale(0.95,1)" font-size="5.5" font-weight="normal" text-anchor="middle" fill="#000">1.1</text>
<line x1="220.2" y1="618.5" x2="220.2" y2="617" stroke="#333" stroke-width="0.6"/>
<text transform="translate(220.2,624.5) scale(0.95,1)" font-size="5.5" font-weight="normal" text-anchor="middle" fill="#000">1.2</text>
<line x1="235.4" y1="618.5" x2="235.4" y2="617" stroke="#333" stroke-width="0.6"/>
<text transform="translate(235.4,624.5) scale(0.95,1)" font-size="5.5" font-weight="normal" text-anchor="middle" fill="#000">1.3</text>
<line x1="159.4" y1="618.5" x2="160.9" y2="618.5" stroke="#333" stroke-width="0.6"/>
<text transform="translate(158.2,620.4) scale(0.95,1)" font-size="5.5" font-weight="normal" text-anchor="end" fill="#000">0.0</text>
<line x1="159.4" y1="608.23" x2="160.9" y2="608.23" stroke="#333" stroke-width="0.6"/>
<text transform="translate(158.2,610.13) scale(0.95,1)" font-size="5.5" font-weight="normal" text-anchor="end" fill="#000">0.1</text>
<line x1="159.4" y1="597.96" x2="160.9" y2="597.96" stroke="#333" stroke-width="0.6"/>
<text transform="translate(158.2,599.86) scale(0.95,1)" font-size="5.5" font-weight="normal" text-anchor="end" fill="#000">0.2</text>
<line x1="159.4" y1="587.69" x2="160.9" y2="587.69" stroke="#333" stroke-width="0.6"/>
<text transform="translate(158.2,589.59) scale(0.95,1)" font-size="5.5" font-weight="normal" text-anchor="end" fill="#000">0.3</text>
<line x1="159.4" y1="577.42" x2="160.9" y2="577.42" stroke="#333" stroke-width="0.6"/>
<text transform="translate(158.2,579.32) scale(0.95,1)" font-size="5.5" font-weight="normal" text-anchor="end" fill="#000">0.4</text>
<line x1="159.4" y1="567.15" x2="160.9" y2="567.15" stroke="#333" stroke-width="0.6"/>
<text transform="translate(158.2,569.05) scale(0.95,1)" font-size="5.5" font-weight="normal" text-anchor="end" fill="#000">0.5</text>
<line x1="159.4" y1="556.88" x2="160.9" y2="556.88" stroke="#333" stroke-width="0.6"/>
<text transform="translate(158.2,558.78) scale(0.95,1)" font-size="5.5" font-weight="normal" text-anchor="end" fill="#000">0.6</text>
<clipPath id="ic"><rect x="159.4" y="556.9" width="76.0" height="61.60000000000002"/></clipPath>
<g clip-path="url(#ic)">
<path d="M170 619 C170.63 618.68 172.35 617.9 173.8 617.1 C175.25 616.3 177.08 615.17 178.7 614.2 C180.32 613.23 182.23 612.42 183.5 611.3 C184.77 610.18 185.18 609.25 186.3 607.5 C187.42 605.75 188.75 603.85 190.2 600.8 C191.65 597.75 193.4 594.02 195 589.2 C196.6 584.38 198.2 577.18 199.8 571.9 C201.4 566.62 203.8 559.9 204.6 557.5" fill="none" stroke="#000000" stroke-width="1" stroke-linejoin="round" stroke-linecap="round"/>
<path d="M173.8 619 C174.13 618.2 174.67 615.25 175.8 614.2 C176.93 613.15 178.37 613.02 180.6 612.7 C182.83 612.38 186.17 612.75 189.2 612.3 C192.23 611.85 195.58 611.28 198.8 610 C202.02 608.72 205.28 607.1 208.5 604.6 C211.72 602.1 215.22 598.52 218.1 595 C220.98 591.48 223.57 587.35 225.8 583.5 C228.03 579.65 229.9 575.92 231.5 571.9 C233.1 567.88 234.75 561.48 235.4 559.4" fill="none" stroke="#ff0000" stroke-width="1.3" stroke-linejoin="round" stroke-linecap="round"/>
<path d="M190.2 619 C191 618.78 192.92 618.23 195 617.7 C197.08 617.17 200.13 617.02 202.7 615.8 C205.27 614.58 208.15 612.58 210.4 610.4 C212.65 608.22 214.43 605.58 216.2 602.7 C217.97 599.82 219.57 596.63 221 593.1 C222.43 589.57 223.52 585.67 224.8 581.5 C226.08 577.33 227.73 572.1 228.7 568.1 C229.67 564.1 230.28 559.27 230.6 557.5" fill="none" stroke="#0000ff" stroke-width="1" stroke-linejoin="round" stroke-linecap="round"/>
<path d="M187.3 619 C187.78 618.53 188.6 616.83 190.2 616.2 C191.8 615.57 194.5 615.68 196.9 615.2 C199.3 614.72 202.03 614.75 204.6 613.3 C207.17 611.85 209.73 609.55 212.3 606.5 C214.87 603.45 217.43 599.17 220 595 C222.57 590.83 225.13 585.98 227.7 581.5 C230.27 577.02 234.12 570.33 235.4 568.1" fill="none" stroke="#00ee00" stroke-width="1.6" stroke-linejoin="round" stroke-linecap="round"/>
<circle cx="173.8" cy="617.1" r="1.1" fill="#000"/>
<circle cx="178.7" cy="614.2" r="1.1" fill="#000"/>
<circle cx="183.5" cy="611.3" r="1.1" fill="#000"/>
<circle cx="186.3" cy="607.5" r="1.1" fill="#000"/>
<circle cx="190.2" cy="600.8" r="1.1" fill="#000"/>
<circle cx="195" cy="589.2" r="1.1" fill="#000"/>
<circle cx="199.8" cy="571.9" r="1.1" fill="#000"/>
<circle cx="204.6" cy="557.5" r="1.1" fill="#000"/>
<circle cx="173.8" cy="619" r="1.5" fill="#ff0000"/>
<circle cx="176.09" cy="614.11" r="1.5" fill="#ff0000"/>
<circle cx="181.37" cy="612.66" r="1.5" fill="#ff0000"/>
<circle cx="186.86" cy="612.41" r="1.5" fill="#ff0000"/>
<circle cx="192.27" cy="611.56" r="1.5" fill="#ff0000"/>
<circle cx="197.62" cy="610.28" r="1.5" fill="#ff0000"/>
<circle cx="202.55" cy="607.91" r="1.5" fill="#ff0000"/>
<circle cx="207.35" cy="605.24" r="1.5" fill="#ff0000"/>
<circle cx="211.46" cy="601.64" r="1.5" fill="#ff0000"/>
<circle cx="215.35" cy="597.75" r="1.5" fill="#ff0000"/>
<circle cx="219" cy="593.66" r="1.5" fill="#ff0000"/>
<circle cx="222.06" cy="589.09" r="1.5" fill="#ff0000"/>
<circle cx="225.12" cy="584.52" r="1.5" fill="#ff0000"/>
<circle cx="227.68" cy="579.67" r="1.5" fill="#ff0000"/>
<circle cx="230.11" cy="574.73" r="1.5" fill="#ff0000"/>
<circle cx="232.2" cy="569.66" r="1.5" fill="#ff0000"/>
<circle cx="233.84" cy="564.41" r="1.5" fill="#ff0000"/>
<circle cx="190.2" cy="619" r="1.2" fill="#0000ff"/>
<circle cx="196" cy="617.45" r="1.2" fill="#0000ff"/>
<circle cx="201.82" cy="616.02" r="1.2" fill="#0000ff"/>
<circle cx="206.87" cy="612.87" r="1.2" fill="#0000ff"/>
<circle cx="211.42" cy="609.05" r="1.2" fill="#0000ff"/>
<circle cx="215.03" cy="604.26" r="1.2" fill="#0000ff"/>
<circle cx="218.01" cy="599.08" r="1.2" fill="#0000ff"/>
<circle cx="220.7" cy="593.71" r="1.2" fill="#0000ff"/>
<circle cx="222.66" cy="588.05" r="1.2" fill="#0000ff"/>
<circle cx="224.52" cy="582.34" r="1.2" fill="#0000ff"/>
<circle cx="226.23" cy="576.59" r="1.2" fill="#0000ff"/>
<circle cx="227.91" cy="570.83" r="1.2" fill="#0000ff"/>
<circle cx="229.26" cy="564.99" r="1.2" fill="#0000ff"/>
<circle cx="230.32" cy="559.09" r="1.2" fill="#0000ff"/>
<circle cx="187.3" cy="619" r="1.4" fill="#00ee00"/>
<circle cx="190.18" cy="616.22" r="1.4" fill="#00ee00"/>
<circle cx="194.13" cy="615.61" r="1.4" fill="#00ee00"/>
<circle cx="198.06" cy="614.91" r="1.4" fill="#00ee00"/>
<circle cx="201.94" cy="613.96" r="1.4" fill="#00ee00"/>
<circle cx="205.55" cy="612.46" r="1.4" fill="#00ee00"/>
<circle cx="208.55" cy="609.82" r="1.4" fill="#00ee00"/>
<circle cx="211.54" cy="607.17" r="1.4" fill="#00ee00"/>
<circle cx="213.96" cy="604.01" r="1.4" fill="#00ee00"/>
<circle cx="216.19" cy="600.69" r="1.4" fill="#00ee00"/>
<circle cx="218.41" cy="597.37" r="1.4" fill="#00ee00"/>
<circle cx="220.57" cy="594" r="1.4" fill="#00ee00"/>
<circle cx="222.55" cy="590.53" r="1.4" fill="#00ee00"/>
<circle cx="224.53" cy="587.05" r="1.4" fill="#00ee00"/>
<circle cx="226.52" cy="583.58" r="1.4" fill="#00ee00"/>
<circle cx="228.5" cy="580.1" r="1.4" fill="#00ee00"/>
<circle cx="230.49" cy="576.64" r="1.4" fill="#00ee00"/>
<circle cx="232.49" cy="573.17" r="1.4" fill="#00ee00"/>
<circle cx="234.48" cy="569.7" r="1.4" fill="#00ee00"/>
<circle cx="170" cy="619" r="1.3" fill="#000"/>
<circle cx="172.24" cy="617.88" r="1.3" fill="#000"/>
<circle cx="174.45" cy="616.72" r="1.3" fill="#000"/>
<circle cx="176.6" cy="615.44" r="1.3" fill="#000"/>
<circle cx="178.75" cy="614.17" r="1.3" fill="#000"/>
<circle cx="180.89" cy="612.88" r="1.3" fill="#000"/>
<circle cx="183.03" cy="611.58" r="1.3" fill="#000"/>
</g>
<rect x="309.4" y="470.5" width="201.3" height="163.3" fill="none" stroke="#858585" stroke-width="1.5"/>
<line x1="309.5" y1="633.8" x2="309.5" y2="636.8" stroke="#555" stroke-width="1"/>
<text transform="translate(309.5,649) scale(0.97,1)" font-size="14" font-weight="normal" text-anchor="middle" fill="#000">0</text>
<line x1="349.46" y1="633.8" x2="349.46" y2="636.8" stroke="#555" stroke-width="1"/>
<text transform="translate(349.46,649) scale(0.97,1)" font-size="14" font-weight="normal" text-anchor="middle" fill="#000">200</text>
<line x1="389.42" y1="633.8" x2="389.42" y2="636.8" stroke="#555" stroke-width="1"/>
<text transform="translate(389.42,649) scale(0.97,1)" font-size="14" font-weight="normal" text-anchor="middle" fill="#000">400</text>
<line x1="429.38" y1="633.8" x2="429.38" y2="636.8" stroke="#555" stroke-width="1"/>
<text transform="translate(429.38,649) scale(0.97,1)" font-size="14" font-weight="normal" text-anchor="middle" fill="#000">600</text>
<line x1="469.34" y1="633.8" x2="469.34" y2="636.8" stroke="#555" stroke-width="1"/>
<text transform="translate(469.34,649) scale(0.97,1)" font-size="14" font-weight="normal" text-anchor="middle" fill="#000">800</text>
<line x1="509.3" y1="633.8" x2="509.3" y2="636.8" stroke="#555" stroke-width="1"/>
<text transform="translate(509.3,649) scale(0.97,1)" font-size="14" font-weight="normal" text-anchor="middle" fill="#000">1000</text>
<line x1="329.48" y1="633.8" x2="329.48" y2="635.8" stroke="#555" stroke-width="1"/>
<line x1="369.44" y1="633.8" x2="369.44" y2="635.8" stroke="#555" stroke-width="1"/>
<line x1="409.4" y1="633.8" x2="409.4" y2="635.8" stroke="#555" stroke-width="1"/>
<line x1="449.36" y1="633.8" x2="449.36" y2="635.8" stroke="#555" stroke-width="1"/>
<line x1="489.32" y1="633.8" x2="489.32" y2="635.8" stroke="#555" stroke-width="1"/>
<line x1="306.4" y1="633.8" x2="309.4" y2="633.8" stroke="#555" stroke-width="1"/>
<text transform="translate(306,638.2) scale(0.97,1)" font-size="14" font-weight="normal" text-anchor="end" fill="#000">0</text>
<line x1="306.4" y1="606.58" x2="309.4" y2="606.58" stroke="#555" stroke-width="1"/>
<text transform="translate(306,610.98) scale(0.97,1)" font-size="14" font-weight="normal" text-anchor="end" fill="#000">20</text>
<line x1="306.4" y1="579.36" x2="309.4" y2="579.36" stroke="#555" stroke-width="1"/>
<text transform="translate(306,583.76) scale(0.97,1)" font-size="14" font-weight="normal" text-anchor="end" fill="#000">40</text>
<line x1="306.4" y1="552.15" x2="309.4" y2="552.15" stroke="#555" stroke-width="1"/>
<text transform="translate(306,556.55) scale(0.97,1)" font-size="14" font-weight="normal" text-anchor="end" fill="#000">60</text>
<line x1="306.4" y1="524.93" x2="309.4" y2="524.93" stroke="#555" stroke-width="1"/>
<text transform="translate(306,529.33) scale(0.97,1)" font-size="14" font-weight="normal" text-anchor="end" fill="#000">80</text>
<line x1="306.4" y1="497.72" x2="309.4" y2="497.72" stroke="#555" stroke-width="1"/>
<text transform="translate(306,502.12) scale(0.97,1)" font-size="14" font-weight="normal" text-anchor="end" fill="#000">100</text>
<line x1="306.4" y1="470.5" x2="309.4" y2="470.5" stroke="#555" stroke-width="1"/>
<text transform="translate(306,474.9) scale(0.97,1)" font-size="14" font-weight="normal" text-anchor="end" fill="#000">120</text>
<line x1="307.4" y1="620.19" x2="309.4" y2="620.19" stroke="#555" stroke-width="1"/>
<line x1="307.4" y1="592.97" x2="309.4" y2="592.97" stroke="#555" stroke-width="1"/>
<line x1="307.4" y1="565.76" x2="309.4" y2="565.76" stroke="#555" stroke-width="1"/>
<line x1="307.4" y1="538.54" x2="309.4" y2="538.54" stroke="#555" stroke-width="1"/>
<line x1="307.4" y1="511.32" x2="309.4" y2="511.32" stroke="#555" stroke-width="1"/>
<line x1="307.4" y1="484.11" x2="309.4" y2="484.11" stroke="#555" stroke-width="1"/>
<text transform="translate(309.8,462.7)" font-size="16.5" font-weight="bold" text-anchor="start" fill="#000">(f)</text>
<text transform="translate(373.3,667.5)" font-size="14" font-weight="bold" text-anchor="start" fill="#000" textLength="82.8" lengthAdjust="spacingAndGlyphs">Cycle number</text>
<text transform="translate(277.7,632.4) rotate(-90)" font-size="14" font-weight="bold" text-anchor="start" fill="#000" textLength="156.5" lengthAdjust="spacingAndGlyphs">Capacitance retention (%)</text>
<clipPath id="fc"><rect x="309.4" y="470.5" width="201.3" height="163.29999999999995"/></clipPath><g clip-path="url(#fc)">
<path d="M309.5 499.08 L310.5 499.53 L311.5 499.92 L312.5 500.24 L313.5 500.52 L314.5 500.75 L315.49 500.95 L316.49 501.12 L317.49 501.26 L318.49 501.38 L319.49 501.48 L320.49 501.57 L321.49 501.64 L322.49 501.7 L323.49 501.75 L324.49 501.8 L325.48 501.83 L326.48 501.87 L327.48 501.89 L328.48 501.92 L329.48 501.93 L339.47 502.11 L349.46 502.28 L359.45 502.46 L369.44 502.63 L379.43 502.8 L389.42 502.98 L399.41 503.15 L409.4 503.33 L419.39 503.5 L429.38 503.67 L439.37 503.85 L449.36 504.02 L459.35 504.19 L469.34 504.37 L479.33 504.54 L489.32 504.72 L499.31 504.89 L509.3 505.06" fill="none" stroke="#ff0000" stroke-width="1.6" stroke-linejoin="round" stroke-linecap="round"/>
<path d="M309.5 500.71 L310.5 501.16 L311.5 501.55 L312.5 501.88 L313.5 502.15 L314.5 502.39 L315.49 502.58 L316.49 502.75 L317.49 502.89 L318.49 503.01 L319.49 503.11 L320.49 503.2 L321.49 503.27 L322.49 503.33 L323.49 503.39 L324.49 503.43 L325.48 503.47 L326.48 503.5 L327.48 503.53 L328.48 503.55 L329.48 503.57 L339.47 503.76 L349.46 503.95 L359.45 504.13 L369.44 504.32 L379.43 504.51 L389.42 504.7 L399.41 504.89 L409.4 505.08 L419.39 505.27 L429.38 505.46 L439.37 505.65 L449.36 505.84 L459.35 506.02 L469.34 506.21 L479.33 506.4 L489.32 506.59 L499.31 506.78 L509.3 506.97" fill="none" stroke="#0000ff" stroke-width="1.6" stroke-linejoin="round" stroke-linecap="round"/>
<path d="M309.5 497.72 L310.5 498.02 L311.5 498.28 L312.5 498.49 L313.5 498.68 L314.5 498.83 L315.49 498.96 L316.49 499.08 L317.49 499.17 L318.49 499.25 L319.49 499.32 L320.49 499.38 L321.49 499.42 L322.49 499.47 L323.49 499.5 L324.49 499.53 L325.48 499.55 L326.48 499.58 L327.48 499.59 L328.48 499.61 L329.48 499.62 L339.47 499.81 L349.46 500 L359.45 500.19 L369.44 500.38 L379.43 500.57 L389.42 500.76 L399.41 500.94 L409.4 501.13 L419.39 501.32 L429.38 501.51 L439.37 501.7 L449.36 501.89 L459.35 502.08 L469.34 502.27 L479.33 502.46 L489.32 502.65 L499.31 502.83 L509.3 503.02" fill="none" stroke="#00ee00" stroke-width="1.6" stroke-linejoin="round" stroke-linecap="round"/>
<rect x="307.8" y="497.38" width="3.4" height="3.4" fill="#ff0000"/>
<rect x="308.8" y="497.83" width="3.4" height="3.4" fill="#ff0000"/>
<rect x="309.8" y="498.22" width="3.4" height="3.4" fill="#ff0000"/>
<rect x="310.8" y="498.54" width="3.4" height="3.4" fill="#ff0000"/>
<rect x="311.8" y="498.82" width="3.4" height="3.4" fill="#ff0000"/>
<rect x="312.8" y="499.05" width="3.4" height="3.4" fill="#ff0000"/>
<rect x="313.79" y="499.25" width="3.4" height="3.4" fill="#ff0000"/>
<rect x="314.79" y="499.42" width="3.4" height="3.4" fill="#ff0000"/>
<rect x="315.79" y="499.56" width="3.4" height="3.4" fill="#ff0000"/>
<rect x="316.79" y="499.68" width="3.4" height="3.4" fill="#ff0000"/>
<rect x="317.79" y="499.78" width="3.4" height="3.4" fill="#ff0000"/>
<rect x="318.79" y="499.87" width="3.4" height="3.4" fill="#ff0000"/>
<rect x="319.79" y="499.94" width="3.4" height="3.4" fill="#ff0000"/>
<rect x="320.79" y="500" width="3.4" height="3.4" fill="#ff0000"/>
<rect x="321.79" y="500.05" width="3.4" height="3.4" fill="#ff0000"/>
<rect x="322.79" y="500.1" width="3.4" height="3.4" fill="#ff0000"/>
<rect x="323.78" y="500.13" width="3.4" height="3.4" fill="#ff0000"/>
<rect x="324.78" y="500.17" width="3.4" height="3.4" fill="#ff0000"/>
<rect x="325.78" y="500.19" width="3.4" height="3.4" fill="#ff0000"/>
<rect x="326.78" y="500.22" width="3.4" height="3.4" fill="#ff0000"/>
<rect x="327.78" y="500.23" width="3.4" height="3.4" fill="#ff0000"/>
<rect x="337.77" y="500.41" width="3.4" height="3.4" fill="#ff0000"/>
<rect x="347.76" y="500.58" width="3.4" height="3.4" fill="#ff0000"/>
<rect x="357.75" y="500.76" width="3.4" height="3.4" fill="#ff0000"/>
<rect x="367.74" y="500.93" width="3.4" height="3.4" fill="#ff0000"/>
<rect x="377.73" y="501.1" width="3.4" height="3.4" fill="#ff0000"/>
<rect x="387.72" y="501.28" width="3.4" height="3.4" fill="#ff0000"/>
<rect x="397.71" y="501.45" width="3.4" height="3.4" fill="#ff0000"/>
<rect x="407.7" y="501.63" width="3.4" height="3.4" fill="#ff0000"/>
<rect x="417.69" y="501.8" width="3.4" height="3.4" fill="#ff0000"/>
<rect x="427.68" y="501.97" width="3.4" height="3.4" fill="#ff0000"/>
<rect x="437.67" y="502.15" width="3.4" height="3.4" fill="#ff0000"/>
<rect x="447.66" y="502.32" width="3.4" height="3.4" fill="#ff0000"/>
<rect x="457.65" y="502.49" width="3.4" height="3.4" fill="#ff0000"/>
<rect x="467.64" y="502.67" width="3.4" height="3.4" fill="#ff0000"/>
<rect x="477.63" y="502.84" width="3.4" height="3.4" fill="#ff0000"/>
<rect x="487.62" y="503.02" width="3.4" height="3.4" fill="#ff0000"/>
<rect x="497.61" y="503.19" width="3.4" height="3.4" fill="#ff0000"/>
<rect x="507.6" y="503.36" width="3.4" height="3.4" fill="#ff0000"/>
<circle cx="309.5" cy="501.01" r="2.8" fill="#0000ff"/>
<circle cx="310.5" cy="501.46" r="2.8" fill="#0000ff"/>
<circle cx="311.5" cy="501.85" r="2.8" fill="#0000ff"/>
<circle cx="312.5" cy="502.18" r="2.8" fill="#0000ff"/>
<circle cx="313.5" cy="502.45" r="2.8" fill="#0000ff"/>
<circle cx="314.5" cy="502.69" r="2.8" fill="#0000ff"/>
<circle cx="315.49" cy="502.88" r="2.8" fill="#0000ff"/>
<circle cx="316.49" cy="503.05" r="2.8" fill="#0000ff"/>
<circle cx="317.49" cy="503.19" r="2.8" fill="#0000ff"/>
<circle cx="318.49" cy="503.31" r="2.8" fill="#0000ff"/>
<circle cx="319.49" cy="503.41" r="2.8" fill="#0000ff"/>
<circle cx="320.49" cy="503.5" r="2.8" fill="#0000ff"/>
<circle cx="321.49" cy="503.57" r="2.8" fill="#0000ff"/>
<circle cx="322.49" cy="503.63" r="2.8" fill="#0000ff"/>
<circle cx="323.49" cy="503.69" r="2.8" fill="#0000ff"/>
<circle cx="324.49" cy="503.73" r="2.8" fill="#0000ff"/>
<circle cx="325.48" cy="503.77" r="2.8" fill="#0000ff"/>
<circle cx="326.48" cy="503.8" r="2.8" fill="#0000ff"/>
<circle cx="327.48" cy="503.83" r="2.8" fill="#0000ff"/>
<circle cx="328.48" cy="503.85" r="2.8" fill="#0000ff"/>
<circle cx="329.48" cy="503.87" r="2.8" fill="#0000ff"/>
<circle cx="339.47" cy="504.06" r="2.8" fill="#0000ff"/>
<circle cx="349.46" cy="504.25" r="2.8" fill="#0000ff"/>
<circle cx="359.45" cy="504.43" r="2.8" fill="#0000ff"/>
<circle cx="369.44" cy="504.62" r="2.8" fill="#0000ff"/>
<circle cx="379.43" cy="504.81" r="2.8" fill="#0000ff"/>
<circle cx="389.42" cy="505" r="2.8" fill="#0000ff"/>
<circle cx="399.41" cy="505.19" r="2.8" fill="#0000ff"/>
<circle cx="409.4" cy="505.38" r="2.8" fill="#0000ff"/>
<circle cx="419.39" cy="505.57" r="2.8" fill="#0000ff"/>
<circle cx="429.38" cy="505.76" r="2.8" fill="#0000ff"/>
<circle cx="439.37" cy="505.95" r="2.8" fill="#0000ff"/>
<circle cx="449.36" cy="506.14" r="2.8" fill="#0000ff"/>
<circle cx="459.35" cy="506.32" r="2.8" fill="#0000ff"/>
<circle cx="469.34" cy="506.51" r="2.8" fill="#0000ff"/>
<circle cx="479.33" cy="506.7" r="2.8" fill="#0000ff"/>
<circle cx="489.32" cy="506.89" r="2.8" fill="#0000ff"/>
<circle cx="499.31" cy="507.08" r="2.8" fill="#0000ff"/>
<circle cx="509.3" cy="507.27" r="2.8" fill="#0000ff"/>
<path d="M309.5 494.12 l3 5.2 h-6z" fill="#00ee00"/>
<path d="M310.5 494.42 l3 5.2 h-6z" fill="#00ee00"/>
<path d="M311.5 494.68 l3 5.2 h-6z" fill="#00ee00"/>
<path d="M312.5 494.89 l3 5.2 h-6z" fill="#00ee00"/>
<path d="M313.5 495.08 l3 5.2 h-6z" fill="#00ee00"/>
<path d="M314.5 495.23 l3 5.2 h-6z" fill="#00ee00"/>
<path d="M315.49 495.36 l3 5.2 h-6z" fill="#00ee00"/>
<path d="M316.49 495.48 l3 5.2 h-6z" fill="#00ee00"/>
<path d="M317.49 495.57 l3 5.2 h-6z" fill="#00ee00"/>
<path d="M318.49 495.65 l3 5.2 h-6z" fill="#00ee00"/>
<path d="M319.49 495.72 l3 5.2 h-6z" fill="#00ee00"/>
<path d="M320.49 495.78 l3 5.2 h-6z" fill="#00ee00"/>
<path d="M321.49 495.82 l3 5.2 h-6z" fill="#00ee00"/>
<path d="M322.49 495.87 l3 5.2 h-6z" fill="#00ee00"/>
<path d="M323.49 495.9 l3 5.2 h-6z" fill="#00ee00"/>
<path d="M324.49 495.93 l3 5.2 h-6z" fill="#00ee00"/>
<path d="M325.48 495.95 l3 5.2 h-6z" fill="#00ee00"/>
<path d="M326.48 495.98 l3 5.2 h-6z" fill="#00ee00"/>
<path d="M327.48 495.99 l3 5.2 h-6z" fill="#00ee00"/>
<path d="M328.48 496.01 l3 5.2 h-6z" fill="#00ee00"/>
<path d="M329.48 496.02 l3 5.2 h-6z" fill="#00ee00"/>
<path d="M339.47 496.21 l3 5.2 h-6z" fill="#00ee00"/>
<path d="M349.46 496.4 l3 5.2 h-6z" fill="#00ee00"/>
<path d="M359.45 496.59 l3 5.2 h-6z" fill="#00ee00"/>
<path d="M369.44 496.78 l3 5.2 h-6z" fill="#00ee00"/>
<path d="M379.43 496.97 l3 5.2 h-6z" fill="#00ee00"/>
<path d="M389.42 497.16 l3 5.2 h-6z" fill="#00ee00"/>
<path d="M399.41 497.34 l3 5.2 h-6z" fill="#00ee00"/>
<path d="M409.4 497.53 l3 5.2 h-6z" fill="#00ee00"/>
<path d="M419.39 497.72 l3 5.2 h-6z" fill="#00ee00"/>
<path d="M429.38 497.91 l3 5.2 h-6z" fill="#00ee00"/>
<path d="M439.37 498.1 l3 5.2 h-6z" fill="#00ee00"/>
<path d="M449.36 498.29 l3 5.2 h-6z" fill="#00ee00"/>
<path d="M459.35 498.48 l3 5.2 h-6z" fill="#00ee00"/>
<path d="M469.34 498.67 l3 5.2 h-6z" fill="#00ee00"/>
<path d="M479.33 498.86 l3 5.2 h-6z" fill="#00ee00"/>
<path d="M489.32 499.05 l3 5.2 h-6z" fill="#00ee00"/>
<path d="M499.31 499.23 l3 5.2 h-6z" fill="#00ee00"/>
<path d="M509.3 499.42 l3 5.2 h-6z" fill="#00ee00"/>
</g>
<line x1="443.1" y1="534.4" x2="463.2" y2="534.4" stroke="#ff0000" stroke-width="1.3"/>
<rect x="450.9" y="532.2" width="4.4" height="4.4" fill="#ff0000"/>
<text transform="translate(466.3,537.7)" font-size="9.5" font-weight="bold" text-anchor="start" fill="#000" textLength="33.5" lengthAdjust="spacingAndGlyphs">ACCS-1</text>
<line x1="443.1" y1="545.1" x2="463.2" y2="545.1" stroke="#0000ff" stroke-width="1.3"/>
<circle cx="453.1" cy="545.1" r="2.53" fill="#0000ff"/>
<text transform="translate(466.3,548.4)" font-size="9.5" font-weight="bold" text-anchor="start" fill="#000" textLength="33.5" lengthAdjust="spacingAndGlyphs">ACCS-3</text>
<line x1="443.1" y1="555.8" x2="463.2" y2="555.8" stroke="#00ee00" stroke-width="1.3"/>
<path d="M453.1 552.83 l3.3 5.28 h-6.6z" fill="#00ee00"/>
<text transform="translate(466.3,559.1)" font-size="9.5" font-weight="bold" text-anchor="start" fill="#000" textLength="33.5" lengthAdjust="spacingAndGlyphs">ACCS-5</text>
</svg>
</body></html>
